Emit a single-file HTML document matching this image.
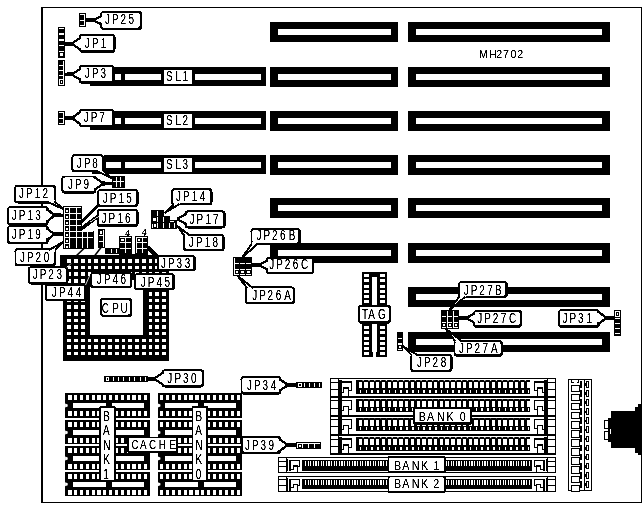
<!DOCTYPE html>
<html><head><meta charset="utf-8"><title>MH2702</title>
<style>
html,body{margin:0;padding:0;background:#fff;}
svg{display:block;font-family:"Liberation Sans",sans-serif;fill:#000;}
</style></head><body>
<svg width="644" height="505" viewBox="0 0 644 505" shape-rendering="crispEdges">
<defs><filter id="tf" x="0" y="0" width="644" height="505" filterUnits="userSpaceOnUse" color-interpolation-filters="sRGB"><feComponentTransfer><feFuncA type="linear" slope="2.6" intercept="-0.55"/></feComponentTransfer></filter></defs>
<rect x="0" y="0" width="644" height="505" fill="#fff"/>
<rect x="41.5" y="7.5" width="600" height="495" fill="#fff" stroke="#000" stroke-width="1"/>
<rect x="41" y="7" width="2" height="496" fill="#000" />
<rect x="408" y="22" width="202" height="20" fill="#000" />
<rect x="416" y="29" width="186" height="6" fill="#fff" />
<rect x="270" y="22" width="128" height="20" fill="#000" />
<rect x="278" y="29" width="113" height="6" fill="#fff" />
<rect x="408" y="67" width="202" height="20" fill="#000" />
<rect x="416" y="74" width="186" height="6" fill="#fff" />
<rect x="270" y="67" width="128" height="20" fill="#000" />
<rect x="278" y="74" width="113" height="6" fill="#fff" />
<rect x="408" y="111" width="202" height="20" fill="#000" />
<rect x="416" y="118" width="186" height="6" fill="#fff" />
<rect x="270" y="111" width="128" height="20" fill="#000" />
<rect x="278" y="118" width="113" height="6" fill="#fff" />
<rect x="408" y="155" width="202" height="20" fill="#000" />
<rect x="416" y="162" width="186" height="6" fill="#fff" />
<rect x="270" y="155" width="128" height="20" fill="#000" />
<rect x="278" y="162" width="113" height="6" fill="#fff" />
<rect x="408" y="198" width="202" height="20" fill="#000" />
<rect x="416" y="205" width="186" height="6" fill="#fff" />
<rect x="270" y="198" width="128" height="20" fill="#000" />
<rect x="278" y="205" width="113" height="6" fill="#fff" />
<rect x="408" y="243" width="202" height="20" fill="#000" />
<rect x="416" y="250" width="186" height="6" fill="#fff" />
<rect x="270" y="243" width="128" height="20" fill="#000" />
<rect x="278" y="250" width="113" height="6" fill="#fff" />
<rect x="408" y="287" width="202" height="20" fill="#000" />
<rect x="416" y="294" width="186" height="6" fill="#fff" />
<rect x="408" y="332" width="202" height="20" fill="#000" />
<rect x="416" y="339" width="186" height="6" fill="#fff" />
<rect x="114" y="67" width="152" height="19" fill="#000" />
<rect x="115" y="74" width="5.5" height="6" fill="#fff" />
<rect x="124.7" y="74" width="36.3" height="6" fill="#fff" />
<rect x="195" y="74" width="66" height="6" fill="#fff" />
<rect x="163.5" y="70" width="28.5" height="14" fill="#fff" />
<rect x="114" y="111" width="152" height="19" fill="#000" />
<rect x="115" y="118" width="5.5" height="6" fill="#fff" />
<rect x="124.7" y="118" width="36.3" height="6" fill="#fff" />
<rect x="195" y="118" width="66" height="6" fill="#fff" />
<rect x="163.5" y="114" width="28.5" height="14" fill="#fff" />
<rect x="104" y="155" width="162" height="19" fill="#000" />
<rect x="106" y="162" width="14.5" height="6" fill="#fff" />
<rect x="124.7" y="162" width="36.3" height="6" fill="#fff" />
<rect x="195" y="162" width="66" height="6" fill="#fff" />
<rect x="163.5" y="158" width="28.5" height="14" fill="#fff" />
<rect x="63" y="255" width="106" height="106" fill="#000" />
<rect x="90" y="280" width="53" height="55" fill="#fff" />
<rect x="67.3" y="259.1" width="3.7" height="3.5" fill="#fff"/>
<rect x="74.1" y="259.1" width="3.7" height="3.5" fill="#fff"/>
<rect x="80.9" y="259.1" width="3.7" height="3.5" fill="#fff"/>
<rect x="87.6" y="259.1" width="3.7" height="3.5" fill="#fff"/>
<rect x="94.4" y="259.1" width="3.7" height="3.5" fill="#fff"/>
<rect x="101.2" y="259.1" width="3.7" height="3.5" fill="#fff"/>
<rect x="108.0" y="259.1" width="3.7" height="3.5" fill="#fff"/>
<rect x="114.8" y="259.1" width="3.7" height="3.5" fill="#fff"/>
<rect x="121.5" y="259.1" width="3.7" height="3.5" fill="#fff"/>
<rect x="128.3" y="259.1" width="3.7" height="3.5" fill="#fff"/>
<rect x="135.1" y="259.1" width="3.7" height="3.5" fill="#fff"/>
<rect x="141.9" y="259.1" width="3.7" height="3.5" fill="#fff"/>
<rect x="148.7" y="259.1" width="3.7" height="3.5" fill="#fff"/>
<rect x="155.4" y="259.1" width="3.7" height="3.5" fill="#fff"/>
<rect x="162.2" y="259.1" width="3.7" height="3.5" fill="#fff"/>
<rect x="67.3" y="265.7" width="3.7" height="3.5" fill="#fff"/>
<rect x="74.1" y="265.7" width="3.7" height="3.5" fill="#fff"/>
<rect x="80.9" y="265.7" width="3.7" height="3.5" fill="#fff"/>
<rect x="87.6" y="265.7" width="3.7" height="3.5" fill="#fff"/>
<rect x="94.4" y="265.7" width="3.7" height="3.5" fill="#fff"/>
<rect x="101.2" y="265.7" width="3.7" height="3.5" fill="#fff"/>
<rect x="108.0" y="265.7" width="3.7" height="3.5" fill="#fff"/>
<rect x="114.8" y="265.7" width="3.7" height="3.5" fill="#fff"/>
<rect x="121.5" y="265.7" width="3.7" height="3.5" fill="#fff"/>
<rect x="128.3" y="265.7" width="3.7" height="3.5" fill="#fff"/>
<rect x="135.1" y="265.7" width="3.7" height="3.5" fill="#fff"/>
<rect x="141.9" y="265.7" width="3.7" height="3.5" fill="#fff"/>
<rect x="148.7" y="265.7" width="3.7" height="3.5" fill="#fff"/>
<rect x="155.4" y="265.7" width="3.7" height="3.5" fill="#fff"/>
<rect x="162.2" y="265.7" width="3.7" height="3.5" fill="#fff"/>
<rect x="67.3" y="272.3" width="3.7" height="3.5" fill="#fff"/>
<rect x="74.1" y="272.3" width="3.7" height="3.5" fill="#fff"/>
<rect x="80.9" y="272.3" width="3.7" height="3.5" fill="#fff"/>
<rect x="87.6" y="272.3" width="3.7" height="3.5" fill="#fff"/>
<rect x="94.4" y="272.3" width="3.7" height="3.5" fill="#fff"/>
<rect x="101.2" y="272.3" width="3.7" height="3.5" fill="#fff"/>
<rect x="108.0" y="272.3" width="3.7" height="3.5" fill="#fff"/>
<rect x="114.8" y="272.3" width="3.7" height="3.5" fill="#fff"/>
<rect x="121.5" y="272.3" width="3.7" height="3.5" fill="#fff"/>
<rect x="128.3" y="272.3" width="3.7" height="3.5" fill="#fff"/>
<rect x="135.1" y="272.3" width="3.7" height="3.5" fill="#fff"/>
<rect x="141.9" y="272.3" width="3.7" height="3.5" fill="#fff"/>
<rect x="148.7" y="272.3" width="3.7" height="3.5" fill="#fff"/>
<rect x="155.4" y="272.3" width="3.7" height="3.5" fill="#fff"/>
<rect x="162.2" y="272.3" width="3.7" height="3.5" fill="#fff"/>
<rect x="67.3" y="279.0" width="3.7" height="3.5" fill="#fff"/>
<rect x="74.1" y="279.0" width="3.7" height="3.5" fill="#fff"/>
<rect x="80.9" y="279.0" width="3.7" height="3.5" fill="#fff"/>
<rect x="148.7" y="279.0" width="3.7" height="3.5" fill="#fff"/>
<rect x="155.4" y="279.0" width="3.7" height="3.5" fill="#fff"/>
<rect x="162.2" y="279.0" width="3.7" height="3.5" fill="#fff"/>
<rect x="67.3" y="285.6" width="3.7" height="3.5" fill="#fff"/>
<rect x="74.1" y="285.6" width="3.7" height="3.5" fill="#fff"/>
<rect x="80.9" y="285.6" width="3.7" height="3.5" fill="#fff"/>
<rect x="148.7" y="285.6" width="3.7" height="3.5" fill="#fff"/>
<rect x="155.4" y="285.6" width="3.7" height="3.5" fill="#fff"/>
<rect x="162.2" y="285.6" width="3.7" height="3.5" fill="#fff"/>
<rect x="67.3" y="292.2" width="3.7" height="3.5" fill="#fff"/>
<rect x="74.1" y="292.2" width="3.7" height="3.5" fill="#fff"/>
<rect x="80.9" y="292.2" width="3.7" height="3.5" fill="#fff"/>
<rect x="148.7" y="292.2" width="3.7" height="3.5" fill="#fff"/>
<rect x="155.4" y="292.2" width="3.7" height="3.5" fill="#fff"/>
<rect x="162.2" y="292.2" width="3.7" height="3.5" fill="#fff"/>
<rect x="67.3" y="298.8" width="3.7" height="3.5" fill="#fff"/>
<rect x="74.1" y="298.8" width="3.7" height="3.5" fill="#fff"/>
<rect x="80.9" y="298.8" width="3.7" height="3.5" fill="#fff"/>
<rect x="148.7" y="298.8" width="3.7" height="3.5" fill="#fff"/>
<rect x="155.4" y="298.8" width="3.7" height="3.5" fill="#fff"/>
<rect x="162.2" y="298.8" width="3.7" height="3.5" fill="#fff"/>
<rect x="67.3" y="305.4" width="3.7" height="3.5" fill="#fff"/>
<rect x="74.1" y="305.4" width="3.7" height="3.5" fill="#fff"/>
<rect x="80.9" y="305.4" width="3.7" height="3.5" fill="#fff"/>
<rect x="148.7" y="305.4" width="3.7" height="3.5" fill="#fff"/>
<rect x="155.4" y="305.4" width="3.7" height="3.5" fill="#fff"/>
<rect x="162.2" y="305.4" width="3.7" height="3.5" fill="#fff"/>
<rect x="67.3" y="312.1" width="3.7" height="3.5" fill="#fff"/>
<rect x="74.1" y="312.1" width="3.7" height="3.5" fill="#fff"/>
<rect x="80.9" y="312.1" width="3.7" height="3.5" fill="#fff"/>
<rect x="148.7" y="312.1" width="3.7" height="3.5" fill="#fff"/>
<rect x="155.4" y="312.1" width="3.7" height="3.5" fill="#fff"/>
<rect x="162.2" y="312.1" width="3.7" height="3.5" fill="#fff"/>
<rect x="67.3" y="318.7" width="3.7" height="3.5" fill="#fff"/>
<rect x="74.1" y="318.7" width="3.7" height="3.5" fill="#fff"/>
<rect x="80.9" y="318.7" width="3.7" height="3.5" fill="#fff"/>
<rect x="148.7" y="318.7" width="3.7" height="3.5" fill="#fff"/>
<rect x="155.4" y="318.7" width="3.7" height="3.5" fill="#fff"/>
<rect x="162.2" y="318.7" width="3.7" height="3.5" fill="#fff"/>
<rect x="67.3" y="325.3" width="3.7" height="3.5" fill="#fff"/>
<rect x="74.1" y="325.3" width="3.7" height="3.5" fill="#fff"/>
<rect x="80.9" y="325.3" width="3.7" height="3.5" fill="#fff"/>
<rect x="148.7" y="325.3" width="3.7" height="3.5" fill="#fff"/>
<rect x="155.4" y="325.3" width="3.7" height="3.5" fill="#fff"/>
<rect x="162.2" y="325.3" width="3.7" height="3.5" fill="#fff"/>
<rect x="67.3" y="331.9" width="3.7" height="3.5" fill="#fff"/>
<rect x="74.1" y="331.9" width="3.7" height="3.5" fill="#fff"/>
<rect x="80.9" y="331.9" width="3.7" height="3.5" fill="#fff"/>
<rect x="148.7" y="331.9" width="3.7" height="3.5" fill="#fff"/>
<rect x="155.4" y="331.9" width="3.7" height="3.5" fill="#fff"/>
<rect x="162.2" y="331.9" width="3.7" height="3.5" fill="#fff"/>
<rect x="67.3" y="338.5" width="3.7" height="3.5" fill="#fff"/>
<rect x="74.1" y="338.5" width="3.7" height="3.5" fill="#fff"/>
<rect x="80.9" y="338.5" width="3.7" height="3.5" fill="#fff"/>
<rect x="87.6" y="338.5" width="3.7" height="3.5" fill="#fff"/>
<rect x="94.4" y="338.5" width="3.7" height="3.5" fill="#fff"/>
<rect x="101.2" y="338.5" width="3.7" height="3.5" fill="#fff"/>
<rect x="108.0" y="338.5" width="3.7" height="3.5" fill="#fff"/>
<rect x="114.8" y="338.5" width="3.7" height="3.5" fill="#fff"/>
<rect x="121.5" y="338.5" width="3.7" height="3.5" fill="#fff"/>
<rect x="128.3" y="338.5" width="3.7" height="3.5" fill="#fff"/>
<rect x="135.1" y="338.5" width="3.7" height="3.5" fill="#fff"/>
<rect x="141.9" y="338.5" width="3.7" height="3.5" fill="#fff"/>
<rect x="148.7" y="338.5" width="3.7" height="3.5" fill="#fff"/>
<rect x="155.4" y="338.5" width="3.7" height="3.5" fill="#fff"/>
<rect x="162.2" y="338.5" width="3.7" height="3.5" fill="#fff"/>
<rect x="67.3" y="345.2" width="3.7" height="3.5" fill="#fff"/>
<rect x="74.1" y="345.2" width="3.7" height="3.5" fill="#fff"/>
<rect x="80.9" y="345.2" width="3.7" height="3.5" fill="#fff"/>
<rect x="87.6" y="345.2" width="3.7" height="3.5" fill="#fff"/>
<rect x="94.4" y="345.2" width="3.7" height="3.5" fill="#fff"/>
<rect x="101.2" y="345.2" width="3.7" height="3.5" fill="#fff"/>
<rect x="108.0" y="345.2" width="3.7" height="3.5" fill="#fff"/>
<rect x="114.8" y="345.2" width="3.7" height="3.5" fill="#fff"/>
<rect x="121.5" y="345.2" width="3.7" height="3.5" fill="#fff"/>
<rect x="128.3" y="345.2" width="3.7" height="3.5" fill="#fff"/>
<rect x="135.1" y="345.2" width="3.7" height="3.5" fill="#fff"/>
<rect x="141.9" y="345.2" width="3.7" height="3.5" fill="#fff"/>
<rect x="148.7" y="345.2" width="3.7" height="3.5" fill="#fff"/>
<rect x="155.4" y="345.2" width="3.7" height="3.5" fill="#fff"/>
<rect x="162.2" y="345.2" width="3.7" height="3.5" fill="#fff"/>
<rect x="67.3" y="351.8" width="3.7" height="3.5" fill="#fff"/>
<rect x="74.1" y="351.8" width="3.7" height="3.5" fill="#fff"/>
<rect x="80.9" y="351.8" width="3.7" height="3.5" fill="#fff"/>
<rect x="87.6" y="351.8" width="3.7" height="3.5" fill="#fff"/>
<rect x="94.4" y="351.8" width="3.7" height="3.5" fill="#fff"/>
<rect x="101.2" y="351.8" width="3.7" height="3.5" fill="#fff"/>
<rect x="108.0" y="351.8" width="3.7" height="3.5" fill="#fff"/>
<rect x="114.8" y="351.8" width="3.7" height="3.5" fill="#fff"/>
<rect x="121.5" y="351.8" width="3.7" height="3.5" fill="#fff"/>
<rect x="128.3" y="351.8" width="3.7" height="3.5" fill="#fff"/>
<rect x="135.1" y="351.8" width="3.7" height="3.5" fill="#fff"/>
<rect x="141.9" y="351.8" width="3.7" height="3.5" fill="#fff"/>
<rect x="148.7" y="351.8" width="3.7" height="3.5" fill="#fff"/>
<rect x="155.4" y="351.8" width="3.7" height="3.5" fill="#fff"/>
<rect x="162.2" y="351.8" width="3.7" height="3.5" fill="#fff"/>
<line x1="76" y1="256" x2="84.5" y2="248" stroke="#000" stroke-width="1.6" shape-rendering="geometricPrecision"/>
<line x1="94.5" y1="256" x2="101" y2="247.5" stroke="#000" stroke-width="1.6" shape-rendering="geometricPrecision"/>
<rect x="119.5" y="254" width="28.5" height="2" fill="#000" />
<rect x="60" y="255" width="3" height="12" fill="#000" />
<rect x="362" y="272" width="25" height="85" fill="#000" />
<rect x="372.3" y="277" width="4.4" height="75" fill="#fff" />
<rect x="373" y="352" width="3" height="5" fill="#fff" />
<rect x="364.4" y="274.2" width="4.8" height="3" fill="#fff" />
<rect x="379.7" y="274.2" width="4.9" height="3" fill="#fff" />
<rect x="364.4" y="279.4" width="4.8" height="3" fill="#fff" />
<rect x="379.7" y="279.4" width="4.9" height="3" fill="#fff" />
<rect x="364.4" y="284.6" width="4.8" height="3" fill="#fff" />
<rect x="379.7" y="284.6" width="4.9" height="3" fill="#fff" />
<rect x="364.4" y="289.8" width="4.8" height="3" fill="#fff" />
<rect x="379.7" y="289.8" width="4.9" height="3" fill="#fff" />
<rect x="364.4" y="295" width="4.8" height="3" fill="#fff" />
<rect x="379.7" y="295" width="4.9" height="3" fill="#fff" />
<rect x="364.4" y="300.2" width="4.8" height="3" fill="#fff" />
<rect x="379.7" y="300.2" width="4.9" height="3" fill="#fff" />
<rect x="364.4" y="305.4" width="4.8" height="3" fill="#fff" />
<rect x="379.7" y="305.4" width="4.9" height="3" fill="#fff" />
<rect x="364.4" y="310.6" width="4.8" height="3" fill="#fff" />
<rect x="379.7" y="310.6" width="4.9" height="3" fill="#fff" />
<rect x="364.4" y="315.8" width="4.8" height="3" fill="#fff" />
<rect x="379.7" y="315.8" width="4.9" height="3" fill="#fff" />
<rect x="364.4" y="321" width="4.8" height="3" fill="#fff" />
<rect x="379.7" y="321" width="4.9" height="3" fill="#fff" />
<rect x="364.4" y="326.2" width="4.8" height="3" fill="#fff" />
<rect x="379.7" y="326.2" width="4.9" height="3" fill="#fff" />
<rect x="364.4" y="331.4" width="4.8" height="3" fill="#fff" />
<rect x="379.7" y="331.4" width="4.9" height="3" fill="#fff" />
<rect x="364.4" y="336.6" width="4.8" height="3" fill="#fff" />
<rect x="379.7" y="336.6" width="4.9" height="3" fill="#fff" />
<rect x="364.4" y="341.8" width="4.8" height="3" fill="#fff" />
<rect x="379.7" y="341.8" width="4.9" height="3" fill="#fff" />
<rect x="364.4" y="347" width="4.8" height="3" fill="#fff" />
<rect x="379.7" y="347" width="4.9" height="3" fill="#fff" />
<rect x="364.4" y="352.2" width="4.8" height="3" fill="#fff" />
<rect x="379.7" y="352.2" width="4.9" height="3" fill="#fff" />
<rect x="65.3" y="392.8" width="84.7" height="25.1" fill="#000" />
<rect x="68.3" y="394.8" width="3.2" height="5" fill="#fff" />
<rect x="68.3" y="410.8" width="3.2" height="5" fill="#fff" />
<rect x="74.12" y="394.8" width="3.2" height="5" fill="#fff" />
<rect x="74.12" y="410.8" width="3.2" height="5" fill="#fff" />
<rect x="79.94" y="394.8" width="3.2" height="5" fill="#fff" />
<rect x="79.94" y="410.8" width="3.2" height="5" fill="#fff" />
<rect x="85.76" y="394.8" width="3.2" height="5" fill="#fff" />
<rect x="85.76" y="410.8" width="3.2" height="5" fill="#fff" />
<rect x="91.58" y="394.8" width="3.2" height="5" fill="#fff" />
<rect x="91.58" y="410.8" width="3.2" height="5" fill="#fff" />
<rect x="97.4" y="394.8" width="3.2" height="5" fill="#fff" />
<rect x="97.4" y="410.8" width="3.2" height="5" fill="#fff" />
<rect x="103.22" y="394.8" width="3.2" height="5" fill="#fff" />
<rect x="103.22" y="410.8" width="3.2" height="5" fill="#fff" />
<rect x="109.04" y="394.8" width="3.2" height="5" fill="#fff" />
<rect x="109.04" y="410.8" width="3.2" height="5" fill="#fff" />
<rect x="114.86" y="394.8" width="3.2" height="5" fill="#fff" />
<rect x="114.86" y="410.8" width="3.2" height="5" fill="#fff" />
<rect x="120.68" y="394.8" width="3.2" height="5" fill="#fff" />
<rect x="120.68" y="410.8" width="3.2" height="5" fill="#fff" />
<rect x="126.5" y="394.8" width="3.2" height="5" fill="#fff" />
<rect x="126.5" y="410.8" width="3.2" height="5" fill="#fff" />
<rect x="132.32" y="394.8" width="3.2" height="5" fill="#fff" />
<rect x="132.32" y="410.8" width="3.2" height="5" fill="#fff" />
<rect x="138.14" y="394.8" width="3.2" height="5" fill="#fff" />
<rect x="138.14" y="410.8" width="3.2" height="5" fill="#fff" />
<rect x="143.96" y="394.8" width="3.2" height="5" fill="#fff" />
<rect x="143.96" y="410.8" width="3.2" height="5" fill="#fff" />
<rect x="72.7" y="402.8" width="71.5" height="5" fill="#fff" />
<rect x="106" y="401.8" width="6" height="7" fill="#000" />
<polygon points="65.1,403.4 67.7,404.4 67.7,406.4 65.1,407.4" fill="#fff" shape-rendering="geometricPrecision"/>
<rect x="65.3" y="419.8" width="84.7" height="24.4" fill="#000" />
<rect x="68.3" y="421.8" width="3.2" height="5" fill="#fff" />
<rect x="68.3" y="437.8" width="3.2" height="5" fill="#fff" />
<rect x="74.12" y="421.8" width="3.2" height="5" fill="#fff" />
<rect x="74.12" y="437.8" width="3.2" height="5" fill="#fff" />
<rect x="79.94" y="421.8" width="3.2" height="5" fill="#fff" />
<rect x="79.94" y="437.8" width="3.2" height="5" fill="#fff" />
<rect x="85.76" y="421.8" width="3.2" height="5" fill="#fff" />
<rect x="85.76" y="437.8" width="3.2" height="5" fill="#fff" />
<rect x="91.58" y="421.8" width="3.2" height="5" fill="#fff" />
<rect x="91.58" y="437.8" width="3.2" height="5" fill="#fff" />
<rect x="97.4" y="421.8" width="3.2" height="5" fill="#fff" />
<rect x="97.4" y="437.8" width="3.2" height="5" fill="#fff" />
<rect x="103.22" y="421.8" width="3.2" height="5" fill="#fff" />
<rect x="103.22" y="437.8" width="3.2" height="5" fill="#fff" />
<rect x="109.04" y="421.8" width="3.2" height="5" fill="#fff" />
<rect x="109.04" y="437.8" width="3.2" height="5" fill="#fff" />
<rect x="114.86" y="421.8" width="3.2" height="5" fill="#fff" />
<rect x="114.86" y="437.8" width="3.2" height="5" fill="#fff" />
<rect x="120.68" y="421.8" width="3.2" height="5" fill="#fff" />
<rect x="120.68" y="437.8" width="3.2" height="5" fill="#fff" />
<rect x="126.5" y="421.8" width="3.2" height="5" fill="#fff" />
<rect x="126.5" y="437.8" width="3.2" height="5" fill="#fff" />
<rect x="132.32" y="421.8" width="3.2" height="5" fill="#fff" />
<rect x="132.32" y="437.8" width="3.2" height="5" fill="#fff" />
<rect x="138.14" y="421.8" width="3.2" height="5" fill="#fff" />
<rect x="138.14" y="437.8" width="3.2" height="5" fill="#fff" />
<rect x="143.96" y="421.8" width="3.2" height="5" fill="#fff" />
<rect x="143.96" y="437.8" width="3.2" height="5" fill="#fff" />
<rect x="72.7" y="429.8" width="71.5" height="5" fill="#fff" />
<rect x="106" y="428.8" width="6" height="7" fill="#000" />
<polygon points="65.1,430.4 67.7,431.4 67.7,433.4 65.1,434.4" fill="#fff" shape-rendering="geometricPrecision"/>
<rect x="65.3" y="445.9" width="84.7" height="24.3" fill="#000" />
<rect x="68.3" y="447.9" width="3.2" height="5" fill="#fff" />
<rect x="68.3" y="463.9" width="3.2" height="5" fill="#fff" />
<rect x="74.12" y="447.9" width="3.2" height="5" fill="#fff" />
<rect x="74.12" y="463.9" width="3.2" height="5" fill="#fff" />
<rect x="79.94" y="447.9" width="3.2" height="5" fill="#fff" />
<rect x="79.94" y="463.9" width="3.2" height="5" fill="#fff" />
<rect x="85.76" y="447.9" width="3.2" height="5" fill="#fff" />
<rect x="85.76" y="463.9" width="3.2" height="5" fill="#fff" />
<rect x="91.58" y="447.9" width="3.2" height="5" fill="#fff" />
<rect x="91.58" y="463.9" width="3.2" height="5" fill="#fff" />
<rect x="97.4" y="447.9" width="3.2" height="5" fill="#fff" />
<rect x="97.4" y="463.9" width="3.2" height="5" fill="#fff" />
<rect x="103.22" y="447.9" width="3.2" height="5" fill="#fff" />
<rect x="103.22" y="463.9" width="3.2" height="5" fill="#fff" />
<rect x="109.04" y="447.9" width="3.2" height="5" fill="#fff" />
<rect x="109.04" y="463.9" width="3.2" height="5" fill="#fff" />
<rect x="114.86" y="447.9" width="3.2" height="5" fill="#fff" />
<rect x="114.86" y="463.9" width="3.2" height="5" fill="#fff" />
<rect x="120.68" y="447.9" width="3.2" height="5" fill="#fff" />
<rect x="120.68" y="463.9" width="3.2" height="5" fill="#fff" />
<rect x="126.5" y="447.9" width="3.2" height="5" fill="#fff" />
<rect x="126.5" y="463.9" width="3.2" height="5" fill="#fff" />
<rect x="132.32" y="447.9" width="3.2" height="5" fill="#fff" />
<rect x="132.32" y="463.9" width="3.2" height="5" fill="#fff" />
<rect x="138.14" y="447.9" width="3.2" height="5" fill="#fff" />
<rect x="138.14" y="463.9" width="3.2" height="5" fill="#fff" />
<rect x="143.96" y="447.9" width="3.2" height="5" fill="#fff" />
<rect x="143.96" y="463.9" width="3.2" height="5" fill="#fff" />
<rect x="72.7" y="455.9" width="71.5" height="5" fill="#fff" />
<rect x="106" y="454.9" width="6" height="7" fill="#000" />
<polygon points="65.1,456.5 67.7,457.5 67.7,459.5 65.1,460.5" fill="#fff" shape-rendering="geometricPrecision"/>
<rect x="65.3" y="471.7" width="84.7" height="24.1" fill="#000" />
<rect x="68.3" y="473.7" width="3.2" height="5" fill="#fff" />
<rect x="68.3" y="489.7" width="3.2" height="5" fill="#fff" />
<rect x="74.12" y="473.7" width="3.2" height="5" fill="#fff" />
<rect x="74.12" y="489.7" width="3.2" height="5" fill="#fff" />
<rect x="79.94" y="473.7" width="3.2" height="5" fill="#fff" />
<rect x="79.94" y="489.7" width="3.2" height="5" fill="#fff" />
<rect x="85.76" y="473.7" width="3.2" height="5" fill="#fff" />
<rect x="85.76" y="489.7" width="3.2" height="5" fill="#fff" />
<rect x="91.58" y="473.7" width="3.2" height="5" fill="#fff" />
<rect x="91.58" y="489.7" width="3.2" height="5" fill="#fff" />
<rect x="97.4" y="473.7" width="3.2" height="5" fill="#fff" />
<rect x="97.4" y="489.7" width="3.2" height="5" fill="#fff" />
<rect x="103.22" y="473.7" width="3.2" height="5" fill="#fff" />
<rect x="103.22" y="489.7" width="3.2" height="5" fill="#fff" />
<rect x="109.04" y="473.7" width="3.2" height="5" fill="#fff" />
<rect x="109.04" y="489.7" width="3.2" height="5" fill="#fff" />
<rect x="114.86" y="473.7" width="3.2" height="5" fill="#fff" />
<rect x="114.86" y="489.7" width="3.2" height="5" fill="#fff" />
<rect x="120.68" y="473.7" width="3.2" height="5" fill="#fff" />
<rect x="120.68" y="489.7" width="3.2" height="5" fill="#fff" />
<rect x="126.5" y="473.7" width="3.2" height="5" fill="#fff" />
<rect x="126.5" y="489.7" width="3.2" height="5" fill="#fff" />
<rect x="132.32" y="473.7" width="3.2" height="5" fill="#fff" />
<rect x="132.32" y="489.7" width="3.2" height="5" fill="#fff" />
<rect x="138.14" y="473.7" width="3.2" height="5" fill="#fff" />
<rect x="138.14" y="489.7" width="3.2" height="5" fill="#fff" />
<rect x="143.96" y="473.7" width="3.2" height="5" fill="#fff" />
<rect x="143.96" y="489.7" width="3.2" height="5" fill="#fff" />
<rect x="72.7" y="481.7" width="71.5" height="5" fill="#fff" />
<rect x="106" y="480.7" width="6" height="7" fill="#000" />
<polygon points="65.1,482.3 67.7,483.3 67.7,485.3 65.1,486.3" fill="#fff" shape-rendering="geometricPrecision"/>
<rect x="158" y="392.8" width="83.8" height="25.1" fill="#000" />
<rect x="159.9" y="394.8" width="3.2" height="5" fill="#fff" />
<rect x="159.9" y="410.8" width="3.2" height="5" fill="#fff" />
<rect x="165.8" y="394.8" width="3.2" height="5" fill="#fff" />
<rect x="165.8" y="410.8" width="3.2" height="5" fill="#fff" />
<rect x="171.7" y="394.8" width="3.2" height="5" fill="#fff" />
<rect x="171.7" y="410.8" width="3.2" height="5" fill="#fff" />
<rect x="177.6" y="394.8" width="3.2" height="5" fill="#fff" />
<rect x="177.6" y="410.8" width="3.2" height="5" fill="#fff" />
<rect x="183.5" y="394.8" width="3.2" height="5" fill="#fff" />
<rect x="183.5" y="410.8" width="3.2" height="5" fill="#fff" />
<rect x="189.4" y="394.8" width="3.2" height="5" fill="#fff" />
<rect x="189.4" y="410.8" width="3.2" height="5" fill="#fff" />
<rect x="195.3" y="394.8" width="3.2" height="5" fill="#fff" />
<rect x="195.3" y="410.8" width="3.2" height="5" fill="#fff" />
<rect x="201.2" y="394.8" width="3.2" height="5" fill="#fff" />
<rect x="201.2" y="410.8" width="3.2" height="5" fill="#fff" />
<rect x="207.1" y="394.8" width="3.2" height="5" fill="#fff" />
<rect x="207.1" y="410.8" width="3.2" height="5" fill="#fff" />
<rect x="213" y="394.8" width="3.2" height="5" fill="#fff" />
<rect x="213" y="410.8" width="3.2" height="5" fill="#fff" />
<rect x="218.9" y="394.8" width="3.2" height="5" fill="#fff" />
<rect x="218.9" y="410.8" width="3.2" height="5" fill="#fff" />
<rect x="224.8" y="394.8" width="3.2" height="5" fill="#fff" />
<rect x="224.8" y="410.8" width="3.2" height="5" fill="#fff" />
<rect x="230.7" y="394.8" width="3.2" height="5" fill="#fff" />
<rect x="230.7" y="410.8" width="3.2" height="5" fill="#fff" />
<rect x="236.6" y="394.8" width="3.2" height="5" fill="#fff" />
<rect x="236.6" y="410.8" width="3.2" height="5" fill="#fff" />
<rect x="165.4" y="402.8" width="70.6" height="5" fill="#fff" />
<rect x="198.2" y="401.8" width="6" height="7" fill="#000" />
<polygon points="157.8,403.4 160.4,404.4 160.4,406.4 157.8,407.4" fill="#fff" shape-rendering="geometricPrecision"/>
<rect x="158" y="419.8" width="83.8" height="24.4" fill="#000" />
<rect x="159.9" y="421.8" width="3.2" height="5" fill="#fff" />
<rect x="159.9" y="437.8" width="3.2" height="5" fill="#fff" />
<rect x="165.8" y="421.8" width="3.2" height="5" fill="#fff" />
<rect x="165.8" y="437.8" width="3.2" height="5" fill="#fff" />
<rect x="171.7" y="421.8" width="3.2" height="5" fill="#fff" />
<rect x="171.7" y="437.8" width="3.2" height="5" fill="#fff" />
<rect x="177.6" y="421.8" width="3.2" height="5" fill="#fff" />
<rect x="177.6" y="437.8" width="3.2" height="5" fill="#fff" />
<rect x="183.5" y="421.8" width="3.2" height="5" fill="#fff" />
<rect x="183.5" y="437.8" width="3.2" height="5" fill="#fff" />
<rect x="189.4" y="421.8" width="3.2" height="5" fill="#fff" />
<rect x="189.4" y="437.8" width="3.2" height="5" fill="#fff" />
<rect x="195.3" y="421.8" width="3.2" height="5" fill="#fff" />
<rect x="195.3" y="437.8" width="3.2" height="5" fill="#fff" />
<rect x="201.2" y="421.8" width="3.2" height="5" fill="#fff" />
<rect x="201.2" y="437.8" width="3.2" height="5" fill="#fff" />
<rect x="207.1" y="421.8" width="3.2" height="5" fill="#fff" />
<rect x="207.1" y="437.8" width="3.2" height="5" fill="#fff" />
<rect x="213" y="421.8" width="3.2" height="5" fill="#fff" />
<rect x="213" y="437.8" width="3.2" height="5" fill="#fff" />
<rect x="218.9" y="421.8" width="3.2" height="5" fill="#fff" />
<rect x="218.9" y="437.8" width="3.2" height="5" fill="#fff" />
<rect x="224.8" y="421.8" width="3.2" height="5" fill="#fff" />
<rect x="224.8" y="437.8" width="3.2" height="5" fill="#fff" />
<rect x="230.7" y="421.8" width="3.2" height="5" fill="#fff" />
<rect x="230.7" y="437.8" width="3.2" height="5" fill="#fff" />
<rect x="236.6" y="421.8" width="3.2" height="5" fill="#fff" />
<rect x="236.6" y="437.8" width="3.2" height="5" fill="#fff" />
<rect x="165.4" y="429.8" width="70.6" height="5" fill="#fff" />
<rect x="198.2" y="428.8" width="6" height="7" fill="#000" />
<polygon points="157.8,430.4 160.4,431.4 160.4,433.4 157.8,434.4" fill="#fff" shape-rendering="geometricPrecision"/>
<rect x="158" y="445.9" width="83.8" height="24.3" fill="#000" />
<rect x="159.9" y="447.9" width="3.2" height="5" fill="#fff" />
<rect x="159.9" y="463.9" width="3.2" height="5" fill="#fff" />
<rect x="165.8" y="447.9" width="3.2" height="5" fill="#fff" />
<rect x="165.8" y="463.9" width="3.2" height="5" fill="#fff" />
<rect x="171.7" y="447.9" width="3.2" height="5" fill="#fff" />
<rect x="171.7" y="463.9" width="3.2" height="5" fill="#fff" />
<rect x="177.6" y="447.9" width="3.2" height="5" fill="#fff" />
<rect x="177.6" y="463.9" width="3.2" height="5" fill="#fff" />
<rect x="183.5" y="447.9" width="3.2" height="5" fill="#fff" />
<rect x="183.5" y="463.9" width="3.2" height="5" fill="#fff" />
<rect x="189.4" y="447.9" width="3.2" height="5" fill="#fff" />
<rect x="189.4" y="463.9" width="3.2" height="5" fill="#fff" />
<rect x="195.3" y="447.9" width="3.2" height="5" fill="#fff" />
<rect x="195.3" y="463.9" width="3.2" height="5" fill="#fff" />
<rect x="201.2" y="447.9" width="3.2" height="5" fill="#fff" />
<rect x="201.2" y="463.9" width="3.2" height="5" fill="#fff" />
<rect x="207.1" y="447.9" width="3.2" height="5" fill="#fff" />
<rect x="207.1" y="463.9" width="3.2" height="5" fill="#fff" />
<rect x="213" y="447.9" width="3.2" height="5" fill="#fff" />
<rect x="213" y="463.9" width="3.2" height="5" fill="#fff" />
<rect x="218.9" y="447.9" width="3.2" height="5" fill="#fff" />
<rect x="218.9" y="463.9" width="3.2" height="5" fill="#fff" />
<rect x="224.8" y="447.9" width="3.2" height="5" fill="#fff" />
<rect x="224.8" y="463.9" width="3.2" height="5" fill="#fff" />
<rect x="230.7" y="447.9" width="3.2" height="5" fill="#fff" />
<rect x="230.7" y="463.9" width="3.2" height="5" fill="#fff" />
<rect x="236.6" y="447.9" width="3.2" height="5" fill="#fff" />
<rect x="236.6" y="463.9" width="3.2" height="5" fill="#fff" />
<rect x="165.4" y="455.9" width="70.6" height="5" fill="#fff" />
<rect x="198.2" y="454.9" width="6" height="7" fill="#000" />
<polygon points="157.8,456.5 160.4,457.5 160.4,459.5 157.8,460.5" fill="#fff" shape-rendering="geometricPrecision"/>
<rect x="158" y="471.7" width="83.8" height="24.1" fill="#000" />
<rect x="159.9" y="473.7" width="3.2" height="5" fill="#fff" />
<rect x="159.9" y="489.7" width="3.2" height="5" fill="#fff" />
<rect x="165.8" y="473.7" width="3.2" height="5" fill="#fff" />
<rect x="165.8" y="489.7" width="3.2" height="5" fill="#fff" />
<rect x="171.7" y="473.7" width="3.2" height="5" fill="#fff" />
<rect x="171.7" y="489.7" width="3.2" height="5" fill="#fff" />
<rect x="177.6" y="473.7" width="3.2" height="5" fill="#fff" />
<rect x="177.6" y="489.7" width="3.2" height="5" fill="#fff" />
<rect x="183.5" y="473.7" width="3.2" height="5" fill="#fff" />
<rect x="183.5" y="489.7" width="3.2" height="5" fill="#fff" />
<rect x="189.4" y="473.7" width="3.2" height="5" fill="#fff" />
<rect x="189.4" y="489.7" width="3.2" height="5" fill="#fff" />
<rect x="195.3" y="473.7" width="3.2" height="5" fill="#fff" />
<rect x="195.3" y="489.7" width="3.2" height="5" fill="#fff" />
<rect x="201.2" y="473.7" width="3.2" height="5" fill="#fff" />
<rect x="201.2" y="489.7" width="3.2" height="5" fill="#fff" />
<rect x="207.1" y="473.7" width="3.2" height="5" fill="#fff" />
<rect x="207.1" y="489.7" width="3.2" height="5" fill="#fff" />
<rect x="213" y="473.7" width="3.2" height="5" fill="#fff" />
<rect x="213" y="489.7" width="3.2" height="5" fill="#fff" />
<rect x="218.9" y="473.7" width="3.2" height="5" fill="#fff" />
<rect x="218.9" y="489.7" width="3.2" height="5" fill="#fff" />
<rect x="224.8" y="473.7" width="3.2" height="5" fill="#fff" />
<rect x="224.8" y="489.7" width="3.2" height="5" fill="#fff" />
<rect x="230.7" y="473.7" width="3.2" height="5" fill="#fff" />
<rect x="230.7" y="489.7" width="3.2" height="5" fill="#fff" />
<rect x="236.6" y="473.7" width="3.2" height="5" fill="#fff" />
<rect x="236.6" y="489.7" width="3.2" height="5" fill="#fff" />
<rect x="165.4" y="481.7" width="70.6" height="5" fill="#fff" />
<rect x="198.2" y="480.7" width="6" height="7" fill="#000" />
<polygon points="157.8,482.3 160.4,483.3 160.4,485.3 157.8,486.3" fill="#fff" shape-rendering="geometricPrecision"/>
<rect x="330.5" y="378.7" width="225" height="18.100000000000023" fill="#fff" stroke="#000"/>
<rect x="330" y="395.7" width="226" height="1.6" fill="#000" />
<line x1="338.5" y1="378.2" x2="338.5" y2="396.3" stroke="#000" stroke-width="1" />
<line x1="330" y1="382.2" x2="338.5" y2="382.2" stroke="#000" stroke-width="1" />
<line x1="330" y1="389.4" x2="338.5" y2="389.4" stroke="#000" stroke-width="1" />
<rect x="338.6" y="379.6" width="3.2" height="16.7" fill="#000" />
<polyline points="341.8,382.0 351.6,382.0 351.6,390.8 348.8,390.8" fill="none" stroke="#000" stroke-width="1.1"/>
<polyline points="341.8,392.2 343.9,392.2 343.9,388.0 348.8,388.0 348.8,396.3" fill="none" stroke="#000" stroke-width="1.1"/>
<line x1="547.5" y1="378.2" x2="547.5" y2="396.3" stroke="#000" stroke-width="1" />
<line x1="556" y1="382.2" x2="547.5" y2="382.2" stroke="#000" stroke-width="1" />
<line x1="556" y1="389.4" x2="547.5" y2="389.4" stroke="#000" stroke-width="1" />
<rect x="544.2" y="379.6" width="3.2" height="16.7" fill="#000" />
<polyline points="544.2,382.0 534.4,382.0 534.4,390.8 537.2,390.8" fill="none" stroke="#000" stroke-width="1.1"/>
<polyline points="544.2,392.2 542.1,392.2 542.1,388.0 537.2,388.0 537.2,396.3" fill="none" stroke="#000" stroke-width="1.1"/>
<rect x="356" y="380.3" width="174" height="13.5" fill="#000" />
<rect x="358.6" y="382.2" width="3.5" height="6.2" fill="#fff" />
<rect x="359.8" y="389.5" width="1.6" height="3.1" fill="#fff" />
<polygon points="362.2,380.0 364.2,380.0 363.2,381.2" fill="#fff" shape-rendering="geometricPrecision"/>
<rect x="364.39" y="382.2" width="3.5" height="6.2" fill="#fff" />
<rect x="365.59" y="389.5" width="1.6" height="3.1" fill="#fff" />
<polygon points="368.0,380.0 370.0,380.0 369.0,381.2" fill="#fff" shape-rendering="geometricPrecision"/>
<rect x="370.18" y="382.2" width="3.5" height="6.2" fill="#fff" />
<rect x="371.38" y="389.5" width="1.6" height="3.1" fill="#fff" />
<polygon points="373.8,380.0 375.8,380.0 374.8,381.2" fill="#fff" shape-rendering="geometricPrecision"/>
<rect x="375.97" y="382.2" width="3.5" height="6.2" fill="#fff" />
<rect x="377.17" y="389.5" width="1.6" height="3.1" fill="#fff" />
<polygon points="379.6,380.0 381.6,380.0 380.6,381.2" fill="#fff" shape-rendering="geometricPrecision"/>
<rect x="381.76" y="382.2" width="3.5" height="6.2" fill="#fff" />
<rect x="382.96" y="389.5" width="1.6" height="3.1" fill="#fff" />
<polygon points="385.4,380.0 387.4,380.0 386.4,381.2" fill="#fff" shape-rendering="geometricPrecision"/>
<rect x="387.55" y="382.2" width="3.5" height="6.2" fill="#fff" />
<rect x="388.75" y="389.5" width="1.6" height="3.1" fill="#fff" />
<polygon points="391.2,380.0 393.2,380.0 392.2,381.2" fill="#fff" shape-rendering="geometricPrecision"/>
<rect x="393.34" y="382.2" width="3.5" height="6.2" fill="#fff" />
<rect x="394.54" y="389.5" width="1.6" height="3.1" fill="#fff" />
<polygon points="396.9,380.0 398.9,380.0 397.9,381.2" fill="#fff" shape-rendering="geometricPrecision"/>
<rect x="399.13" y="382.2" width="3.5" height="6.2" fill="#fff" />
<rect x="400.33" y="389.5" width="1.6" height="3.1" fill="#fff" />
<polygon points="402.7,380.0 404.7,380.0 403.7,381.2" fill="#fff" shape-rendering="geometricPrecision"/>
<rect x="404.92" y="382.2" width="3.5" height="6.2" fill="#fff" />
<rect x="406.12" y="389.5" width="1.6" height="3.1" fill="#fff" />
<polygon points="408.5,380.0 410.5,380.0 409.5,381.2" fill="#fff" shape-rendering="geometricPrecision"/>
<rect x="410.71" y="382.2" width="3.5" height="6.2" fill="#fff" />
<rect x="411.91" y="389.5" width="1.6" height="3.1" fill="#fff" />
<polygon points="414.3,380.0 416.3,380.0 415.3,381.2" fill="#fff" shape-rendering="geometricPrecision"/>
<rect x="416.5" y="382.2" width="3.5" height="6.2" fill="#fff" />
<rect x="417.7" y="389.5" width="1.6" height="3.1" fill="#fff" />
<polygon points="420.1,380.0 422.1,380.0 421.1,381.2" fill="#fff" shape-rendering="geometricPrecision"/>
<rect x="422.29" y="382.2" width="3.5" height="6.2" fill="#fff" />
<rect x="423.49" y="389.5" width="1.6" height="3.1" fill="#fff" />
<polygon points="425.9,380.0 427.9,380.0 426.9,381.2" fill="#fff" shape-rendering="geometricPrecision"/>
<rect x="428.08" y="382.2" width="3.5" height="6.2" fill="#fff" />
<rect x="429.28" y="389.5" width="1.6" height="3.1" fill="#fff" />
<polygon points="431.7,380.0 433.7,380.0 432.7,381.2" fill="#fff" shape-rendering="geometricPrecision"/>
<rect x="433.87" y="382.2" width="3.5" height="6.2" fill="#fff" />
<rect x="435.07" y="389.5" width="1.6" height="3.1" fill="#fff" />
<polygon points="437.5,380.0 439.5,380.0 438.5,381.2" fill="#fff" shape-rendering="geometricPrecision"/>
<rect x="439.66" y="382.2" width="3.5" height="6.2" fill="#fff" />
<rect x="440.86" y="389.5" width="1.6" height="3.1" fill="#fff" />
<polygon points="443.3,380.0 445.3,380.0 444.3,381.2" fill="#fff" shape-rendering="geometricPrecision"/>
<rect x="445.45" y="382.2" width="3.5" height="6.2" fill="#fff" />
<rect x="446.65" y="389.5" width="1.6" height="3.1" fill="#fff" />
<polygon points="449.1,380.0 451.1,380.0 450.1,381.2" fill="#fff" shape-rendering="geometricPrecision"/>
<rect x="451.24" y="382.2" width="3.5" height="6.2" fill="#fff" />
<rect x="452.44" y="389.5" width="1.6" height="3.1" fill="#fff" />
<polygon points="454.8,380.0 456.8,380.0 455.8,381.2" fill="#fff" shape-rendering="geometricPrecision"/>
<rect x="457.03" y="382.2" width="3.5" height="6.2" fill="#fff" />
<rect x="458.23" y="389.5" width="1.6" height="3.1" fill="#fff" />
<polygon points="460.6,380.0 462.6,380.0 461.6,381.2" fill="#fff" shape-rendering="geometricPrecision"/>
<rect x="462.82" y="382.2" width="3.5" height="6.2" fill="#fff" />
<rect x="464.02" y="389.5" width="1.6" height="3.1" fill="#fff" />
<polygon points="466.4,380.0 468.4,380.0 467.4,381.2" fill="#fff" shape-rendering="geometricPrecision"/>
<rect x="468.61" y="382.2" width="3.5" height="6.2" fill="#fff" />
<rect x="469.81" y="389.5" width="1.6" height="3.1" fill="#fff" />
<polygon points="472.2,380.0 474.2,380.0 473.2,381.2" fill="#fff" shape-rendering="geometricPrecision"/>
<rect x="474.4" y="382.2" width="3.5" height="6.2" fill="#fff" />
<rect x="475.6" y="389.5" width="1.6" height="3.1" fill="#fff" />
<polygon points="478.0,380.0 480.0,380.0 479.0,381.2" fill="#fff" shape-rendering="geometricPrecision"/>
<rect x="480.19" y="382.2" width="3.5" height="6.2" fill="#fff" />
<rect x="481.39" y="389.5" width="1.6" height="3.1" fill="#fff" />
<polygon points="483.8,380.0 485.8,380.0 484.8,381.2" fill="#fff" shape-rendering="geometricPrecision"/>
<rect x="485.98" y="382.2" width="3.5" height="6.2" fill="#fff" />
<rect x="487.18" y="389.5" width="1.6" height="3.1" fill="#fff" />
<polygon points="489.6,380.0 491.6,380.0 490.6,381.2" fill="#fff" shape-rendering="geometricPrecision"/>
<rect x="491.77" y="382.2" width="3.5" height="6.2" fill="#fff" />
<rect x="492.97" y="389.5" width="1.6" height="3.1" fill="#fff" />
<polygon points="495.4,380.0 497.4,380.0 496.4,381.2" fill="#fff" shape-rendering="geometricPrecision"/>
<rect x="497.56" y="382.2" width="3.5" height="6.2" fill="#fff" />
<rect x="498.76" y="389.5" width="1.6" height="3.1" fill="#fff" />
<polygon points="501.2,380.0 503.2,380.0 502.2,381.2" fill="#fff" shape-rendering="geometricPrecision"/>
<rect x="503.35" y="382.2" width="3.5" height="6.2" fill="#fff" />
<rect x="504.55" y="389.5" width="1.6" height="3.1" fill="#fff" />
<polygon points="507.0,380.0 509.0,380.0 508.0,381.2" fill="#fff" shape-rendering="geometricPrecision"/>
<rect x="509.14" y="382.2" width="3.5" height="6.2" fill="#fff" />
<rect x="510.34" y="389.5" width="1.6" height="3.1" fill="#fff" />
<polygon points="512.7,380.0 514.7,380.0 513.7,381.2" fill="#fff" shape-rendering="geometricPrecision"/>
<rect x="514.93" y="382.2" width="3.5" height="6.2" fill="#fff" />
<rect x="516.13" y="389.5" width="1.6" height="3.1" fill="#fff" />
<polygon points="518.5,380.0 520.5,380.0 519.5,381.2" fill="#fff" shape-rendering="geometricPrecision"/>
<rect x="520.72" y="382.2" width="3.5" height="6.2" fill="#fff" />
<rect x="521.92" y="389.5" width="1.6" height="3.1" fill="#fff" />
<polygon points="524.3,380.0 526.3,380.0 525.3,381.2" fill="#fff" shape-rendering="geometricPrecision"/>
<rect x="526.51" y="382.2" width="3.5" height="6.2" fill="#fff" />
<rect x="527.71" y="389.5" width="1.6" height="3.1" fill="#fff" />
<polygon points="530.1,380.0 532.1,380.0 531.1,381.2" fill="#fff" shape-rendering="geometricPrecision"/>
<rect x="330.5" y="397.3" width="225" height="18.30000000000001" fill="#fff" stroke="#000"/>
<rect x="330" y="414.5" width="226" height="1.6" fill="#000" />
<line x1="338.5" y1="396.8" x2="338.5" y2="415.1" stroke="#000" stroke-width="1" />
<line x1="330" y1="400.8" x2="338.5" y2="400.8" stroke="#000" stroke-width="1" />
<line x1="330" y1="408" x2="338.5" y2="408" stroke="#000" stroke-width="1" />
<rect x="338.6" y="398.2" width="3.2" height="16.9" fill="#000" />
<polyline points="341.8,400.6 351.6,400.6 351.6,409.4 348.8,409.4" fill="none" stroke="#000" stroke-width="1.1"/>
<polyline points="341.8,410.8 343.9,410.8 343.9,406.6 348.8,406.6 348.8,415.1" fill="none" stroke="#000" stroke-width="1.1"/>
<line x1="547.5" y1="396.8" x2="547.5" y2="415.1" stroke="#000" stroke-width="1" />
<line x1="556" y1="400.8" x2="547.5" y2="400.8" stroke="#000" stroke-width="1" />
<line x1="556" y1="408" x2="547.5" y2="408" stroke="#000" stroke-width="1" />
<rect x="544.2" y="398.2" width="3.2" height="16.9" fill="#000" />
<polyline points="544.2,400.6 534.4,400.6 534.4,409.4 537.2,409.4" fill="none" stroke="#000" stroke-width="1.1"/>
<polyline points="544.2,410.8 542.1,410.8 542.1,406.6 537.2,406.6 537.2,415.1" fill="none" stroke="#000" stroke-width="1.1"/>
<rect x="356" y="398.9" width="174" height="13.5" fill="#000" />
<rect x="358.6" y="400.8" width="3.5" height="6.2" fill="#fff" />
<rect x="359.8" y="408.1" width="1.6" height="3.1" fill="#fff" />
<polygon points="362.2,398.6 364.2,398.6 363.2,399.8" fill="#fff" shape-rendering="geometricPrecision"/>
<rect x="364.39" y="400.8" width="3.5" height="6.2" fill="#fff" />
<rect x="365.59" y="408.1" width="1.6" height="3.1" fill="#fff" />
<polygon points="368.0,398.6 370.0,398.6 369.0,399.8" fill="#fff" shape-rendering="geometricPrecision"/>
<rect x="370.18" y="400.8" width="3.5" height="6.2" fill="#fff" />
<rect x="371.38" y="408.1" width="1.6" height="3.1" fill="#fff" />
<polygon points="373.8,398.6 375.8,398.6 374.8,399.8" fill="#fff" shape-rendering="geometricPrecision"/>
<rect x="375.97" y="400.8" width="3.5" height="6.2" fill="#fff" />
<rect x="377.17" y="408.1" width="1.6" height="3.1" fill="#fff" />
<polygon points="379.6,398.6 381.6,398.6 380.6,399.8" fill="#fff" shape-rendering="geometricPrecision"/>
<rect x="381.76" y="400.8" width="3.5" height="6.2" fill="#fff" />
<rect x="382.96" y="408.1" width="1.6" height="3.1" fill="#fff" />
<polygon points="385.4,398.6 387.4,398.6 386.4,399.8" fill="#fff" shape-rendering="geometricPrecision"/>
<rect x="387.55" y="400.8" width="3.5" height="6.2" fill="#fff" />
<rect x="388.75" y="408.1" width="1.6" height="3.1" fill="#fff" />
<polygon points="391.2,398.6 393.2,398.6 392.2,399.8" fill="#fff" shape-rendering="geometricPrecision"/>
<rect x="393.34" y="400.8" width="3.5" height="6.2" fill="#fff" />
<rect x="394.54" y="408.1" width="1.6" height="3.1" fill="#fff" />
<polygon points="396.9,398.6 398.9,398.6 397.9,399.8" fill="#fff" shape-rendering="geometricPrecision"/>
<rect x="399.13" y="400.8" width="3.5" height="6.2" fill="#fff" />
<rect x="400.33" y="408.1" width="1.6" height="3.1" fill="#fff" />
<polygon points="402.7,398.6 404.7,398.6 403.7,399.8" fill="#fff" shape-rendering="geometricPrecision"/>
<rect x="404.92" y="400.8" width="3.5" height="6.2" fill="#fff" />
<rect x="406.12" y="408.1" width="1.6" height="3.1" fill="#fff" />
<polygon points="408.5,398.6 410.5,398.6 409.5,399.8" fill="#fff" shape-rendering="geometricPrecision"/>
<rect x="410.71" y="400.8" width="3.5" height="6.2" fill="#fff" />
<rect x="411.91" y="408.1" width="1.6" height="3.1" fill="#fff" />
<polygon points="414.3,398.6 416.3,398.6 415.3,399.8" fill="#fff" shape-rendering="geometricPrecision"/>
<rect x="416.5" y="400.8" width="3.5" height="6.2" fill="#fff" />
<rect x="417.7" y="408.1" width="1.6" height="3.1" fill="#fff" />
<polygon points="420.1,398.6 422.1,398.6 421.1,399.8" fill="#fff" shape-rendering="geometricPrecision"/>
<rect x="422.29" y="400.8" width="3.5" height="6.2" fill="#fff" />
<rect x="423.49" y="408.1" width="1.6" height="3.1" fill="#fff" />
<polygon points="425.9,398.6 427.9,398.6 426.9,399.8" fill="#fff" shape-rendering="geometricPrecision"/>
<rect x="428.08" y="400.8" width="3.5" height="6.2" fill="#fff" />
<rect x="429.28" y="408.1" width="1.6" height="3.1" fill="#fff" />
<polygon points="431.7,398.6 433.7,398.6 432.7,399.8" fill="#fff" shape-rendering="geometricPrecision"/>
<rect x="433.87" y="400.8" width="3.5" height="6.2" fill="#fff" />
<rect x="435.07" y="408.1" width="1.6" height="3.1" fill="#fff" />
<polygon points="437.5,398.6 439.5,398.6 438.5,399.8" fill="#fff" shape-rendering="geometricPrecision"/>
<rect x="439.66" y="400.8" width="3.5" height="6.2" fill="#fff" />
<rect x="440.86" y="408.1" width="1.6" height="3.1" fill="#fff" />
<polygon points="443.3,398.6 445.3,398.6 444.3,399.8" fill="#fff" shape-rendering="geometricPrecision"/>
<rect x="445.45" y="400.8" width="3.5" height="6.2" fill="#fff" />
<rect x="446.65" y="408.1" width="1.6" height="3.1" fill="#fff" />
<polygon points="449.1,398.6 451.1,398.6 450.1,399.8" fill="#fff" shape-rendering="geometricPrecision"/>
<rect x="451.24" y="400.8" width="3.5" height="6.2" fill="#fff" />
<rect x="452.44" y="408.1" width="1.6" height="3.1" fill="#fff" />
<polygon points="454.8,398.6 456.8,398.6 455.8,399.8" fill="#fff" shape-rendering="geometricPrecision"/>
<rect x="457.03" y="400.8" width="3.5" height="6.2" fill="#fff" />
<rect x="458.23" y="408.1" width="1.6" height="3.1" fill="#fff" />
<polygon points="460.6,398.6 462.6,398.6 461.6,399.8" fill="#fff" shape-rendering="geometricPrecision"/>
<rect x="462.82" y="400.8" width="3.5" height="6.2" fill="#fff" />
<rect x="464.02" y="408.1" width="1.6" height="3.1" fill="#fff" />
<polygon points="466.4,398.6 468.4,398.6 467.4,399.8" fill="#fff" shape-rendering="geometricPrecision"/>
<rect x="468.61" y="400.8" width="3.5" height="6.2" fill="#fff" />
<rect x="469.81" y="408.1" width="1.6" height="3.1" fill="#fff" />
<polygon points="472.2,398.6 474.2,398.6 473.2,399.8" fill="#fff" shape-rendering="geometricPrecision"/>
<rect x="474.4" y="400.8" width="3.5" height="6.2" fill="#fff" />
<rect x="475.6" y="408.1" width="1.6" height="3.1" fill="#fff" />
<polygon points="478.0,398.6 480.0,398.6 479.0,399.8" fill="#fff" shape-rendering="geometricPrecision"/>
<rect x="480.19" y="400.8" width="3.5" height="6.2" fill="#fff" />
<rect x="481.39" y="408.1" width="1.6" height="3.1" fill="#fff" />
<polygon points="483.8,398.6 485.8,398.6 484.8,399.8" fill="#fff" shape-rendering="geometricPrecision"/>
<rect x="485.98" y="400.8" width="3.5" height="6.2" fill="#fff" />
<rect x="487.18" y="408.1" width="1.6" height="3.1" fill="#fff" />
<polygon points="489.6,398.6 491.6,398.6 490.6,399.8" fill="#fff" shape-rendering="geometricPrecision"/>
<rect x="491.77" y="400.8" width="3.5" height="6.2" fill="#fff" />
<rect x="492.97" y="408.1" width="1.6" height="3.1" fill="#fff" />
<polygon points="495.4,398.6 497.4,398.6 496.4,399.8" fill="#fff" shape-rendering="geometricPrecision"/>
<rect x="497.56" y="400.8" width="3.5" height="6.2" fill="#fff" />
<rect x="498.76" y="408.1" width="1.6" height="3.1" fill="#fff" />
<polygon points="501.2,398.6 503.2,398.6 502.2,399.8" fill="#fff" shape-rendering="geometricPrecision"/>
<rect x="503.35" y="400.8" width="3.5" height="6.2" fill="#fff" />
<rect x="504.55" y="408.1" width="1.6" height="3.1" fill="#fff" />
<polygon points="507.0,398.6 509.0,398.6 508.0,399.8" fill="#fff" shape-rendering="geometricPrecision"/>
<rect x="509.14" y="400.8" width="3.5" height="6.2" fill="#fff" />
<rect x="510.34" y="408.1" width="1.6" height="3.1" fill="#fff" />
<polygon points="512.7,398.6 514.7,398.6 513.7,399.8" fill="#fff" shape-rendering="geometricPrecision"/>
<rect x="514.93" y="400.8" width="3.5" height="6.2" fill="#fff" />
<rect x="516.13" y="408.1" width="1.6" height="3.1" fill="#fff" />
<polygon points="518.5,398.6 520.5,398.6 519.5,399.8" fill="#fff" shape-rendering="geometricPrecision"/>
<rect x="520.72" y="400.8" width="3.5" height="6.2" fill="#fff" />
<rect x="521.92" y="408.1" width="1.6" height="3.1" fill="#fff" />
<polygon points="524.3,398.6 526.3,398.6 525.3,399.8" fill="#fff" shape-rendering="geometricPrecision"/>
<rect x="526.51" y="400.8" width="3.5" height="6.2" fill="#fff" />
<rect x="527.71" y="408.1" width="1.6" height="3.1" fill="#fff" />
<polygon points="530.1,398.6 532.1,398.6 531.1,399.8" fill="#fff" shape-rendering="geometricPrecision"/>
<rect x="330.5" y="416.1" width="225" height="19.099999999999966" fill="#fff" stroke="#000"/>
<rect x="330" y="434.1" width="226" height="1.6" fill="#000" />
<line x1="338.5" y1="415.6" x2="338.5" y2="434.7" stroke="#000" stroke-width="1" />
<line x1="330" y1="419.6" x2="338.5" y2="419.6" stroke="#000" stroke-width="1" />
<line x1="330" y1="426.8" x2="338.5" y2="426.8" stroke="#000" stroke-width="1" />
<rect x="338.6" y="417" width="3.2" height="17.7" fill="#000" />
<polyline points="341.8,419.4 351.6,419.4 351.6,428.2 348.8,428.2" fill="none" stroke="#000" stroke-width="1.1"/>
<polyline points="341.8,429.6 343.9,429.6 343.9,425.4 348.8,425.4 348.8,434.7" fill="none" stroke="#000" stroke-width="1.1"/>
<line x1="547.5" y1="415.6" x2="547.5" y2="434.7" stroke="#000" stroke-width="1" />
<line x1="556" y1="419.6" x2="547.5" y2="419.6" stroke="#000" stroke-width="1" />
<line x1="556" y1="426.8" x2="547.5" y2="426.8" stroke="#000" stroke-width="1" />
<rect x="544.2" y="417" width="3.2" height="17.7" fill="#000" />
<polyline points="544.2,419.4 534.4,419.4 534.4,428.2 537.2,428.2" fill="none" stroke="#000" stroke-width="1.1"/>
<polyline points="544.2,429.6 542.1,429.6 542.1,425.4 537.2,425.4 537.2,434.7" fill="none" stroke="#000" stroke-width="1.1"/>
<rect x="356" y="417.7" width="174" height="13.5" fill="#000" />
<rect x="358.6" y="419.6" width="3.5" height="6.2" fill="#fff" />
<rect x="359.8" y="426.9" width="1.6" height="3.1" fill="#fff" />
<polygon points="362.2,417.4 364.2,417.4 363.2,418.6" fill="#fff" shape-rendering="geometricPrecision"/>
<rect x="364.39" y="419.6" width="3.5" height="6.2" fill="#fff" />
<rect x="365.59" y="426.9" width="1.6" height="3.1" fill="#fff" />
<polygon points="368.0,417.4 370.0,417.4 369.0,418.6" fill="#fff" shape-rendering="geometricPrecision"/>
<rect x="370.18" y="419.6" width="3.5" height="6.2" fill="#fff" />
<rect x="371.38" y="426.9" width="1.6" height="3.1" fill="#fff" />
<polygon points="373.8,417.4 375.8,417.4 374.8,418.6" fill="#fff" shape-rendering="geometricPrecision"/>
<rect x="375.97" y="419.6" width="3.5" height="6.2" fill="#fff" />
<rect x="377.17" y="426.9" width="1.6" height="3.1" fill="#fff" />
<polygon points="379.6,417.4 381.6,417.4 380.6,418.6" fill="#fff" shape-rendering="geometricPrecision"/>
<rect x="381.76" y="419.6" width="3.5" height="6.2" fill="#fff" />
<rect x="382.96" y="426.9" width="1.6" height="3.1" fill="#fff" />
<polygon points="385.4,417.4 387.4,417.4 386.4,418.6" fill="#fff" shape-rendering="geometricPrecision"/>
<rect x="387.55" y="419.6" width="3.5" height="6.2" fill="#fff" />
<rect x="388.75" y="426.9" width="1.6" height="3.1" fill="#fff" />
<polygon points="391.2,417.4 393.2,417.4 392.2,418.6" fill="#fff" shape-rendering="geometricPrecision"/>
<rect x="393.34" y="419.6" width="3.5" height="6.2" fill="#fff" />
<rect x="394.54" y="426.9" width="1.6" height="3.1" fill="#fff" />
<polygon points="396.9,417.4 398.9,417.4 397.9,418.6" fill="#fff" shape-rendering="geometricPrecision"/>
<rect x="399.13" y="419.6" width="3.5" height="6.2" fill="#fff" />
<rect x="400.33" y="426.9" width="1.6" height="3.1" fill="#fff" />
<polygon points="402.7,417.4 404.7,417.4 403.7,418.6" fill="#fff" shape-rendering="geometricPrecision"/>
<rect x="404.92" y="419.6" width="3.5" height="6.2" fill="#fff" />
<rect x="406.12" y="426.9" width="1.6" height="3.1" fill="#fff" />
<polygon points="408.5,417.4 410.5,417.4 409.5,418.6" fill="#fff" shape-rendering="geometricPrecision"/>
<rect x="410.71" y="419.6" width="3.5" height="6.2" fill="#fff" />
<rect x="411.91" y="426.9" width="1.6" height="3.1" fill="#fff" />
<polygon points="414.3,417.4 416.3,417.4 415.3,418.6" fill="#fff" shape-rendering="geometricPrecision"/>
<rect x="416.5" y="419.6" width="3.5" height="6.2" fill="#fff" />
<rect x="417.7" y="426.9" width="1.6" height="3.1" fill="#fff" />
<polygon points="420.1,417.4 422.1,417.4 421.1,418.6" fill="#fff" shape-rendering="geometricPrecision"/>
<rect x="422.29" y="419.6" width="3.5" height="6.2" fill="#fff" />
<rect x="423.49" y="426.9" width="1.6" height="3.1" fill="#fff" />
<polygon points="425.9,417.4 427.9,417.4 426.9,418.6" fill="#fff" shape-rendering="geometricPrecision"/>
<rect x="428.08" y="419.6" width="3.5" height="6.2" fill="#fff" />
<rect x="429.28" y="426.9" width="1.6" height="3.1" fill="#fff" />
<polygon points="431.7,417.4 433.7,417.4 432.7,418.6" fill="#fff" shape-rendering="geometricPrecision"/>
<rect x="433.87" y="419.6" width="3.5" height="6.2" fill="#fff" />
<rect x="435.07" y="426.9" width="1.6" height="3.1" fill="#fff" />
<polygon points="437.5,417.4 439.5,417.4 438.5,418.6" fill="#fff" shape-rendering="geometricPrecision"/>
<rect x="439.66" y="419.6" width="3.5" height="6.2" fill="#fff" />
<rect x="440.86" y="426.9" width="1.6" height="3.1" fill="#fff" />
<polygon points="443.3,417.4 445.3,417.4 444.3,418.6" fill="#fff" shape-rendering="geometricPrecision"/>
<rect x="445.45" y="419.6" width="3.5" height="6.2" fill="#fff" />
<rect x="446.65" y="426.9" width="1.6" height="3.1" fill="#fff" />
<polygon points="449.1,417.4 451.1,417.4 450.1,418.6" fill="#fff" shape-rendering="geometricPrecision"/>
<rect x="451.24" y="419.6" width="3.5" height="6.2" fill="#fff" />
<rect x="452.44" y="426.9" width="1.6" height="3.1" fill="#fff" />
<polygon points="454.8,417.4 456.8,417.4 455.8,418.6" fill="#fff" shape-rendering="geometricPrecision"/>
<rect x="457.03" y="419.6" width="3.5" height="6.2" fill="#fff" />
<rect x="458.23" y="426.9" width="1.6" height="3.1" fill="#fff" />
<polygon points="460.6,417.4 462.6,417.4 461.6,418.6" fill="#fff" shape-rendering="geometricPrecision"/>
<rect x="462.82" y="419.6" width="3.5" height="6.2" fill="#fff" />
<rect x="464.02" y="426.9" width="1.6" height="3.1" fill="#fff" />
<polygon points="466.4,417.4 468.4,417.4 467.4,418.6" fill="#fff" shape-rendering="geometricPrecision"/>
<rect x="468.61" y="419.6" width="3.5" height="6.2" fill="#fff" />
<rect x="469.81" y="426.9" width="1.6" height="3.1" fill="#fff" />
<polygon points="472.2,417.4 474.2,417.4 473.2,418.6" fill="#fff" shape-rendering="geometricPrecision"/>
<rect x="474.4" y="419.6" width="3.5" height="6.2" fill="#fff" />
<rect x="475.6" y="426.9" width="1.6" height="3.1" fill="#fff" />
<polygon points="478.0,417.4 480.0,417.4 479.0,418.6" fill="#fff" shape-rendering="geometricPrecision"/>
<rect x="480.19" y="419.6" width="3.5" height="6.2" fill="#fff" />
<rect x="481.39" y="426.9" width="1.6" height="3.1" fill="#fff" />
<polygon points="483.8,417.4 485.8,417.4 484.8,418.6" fill="#fff" shape-rendering="geometricPrecision"/>
<rect x="485.98" y="419.6" width="3.5" height="6.2" fill="#fff" />
<rect x="487.18" y="426.9" width="1.6" height="3.1" fill="#fff" />
<polygon points="489.6,417.4 491.6,417.4 490.6,418.6" fill="#fff" shape-rendering="geometricPrecision"/>
<rect x="491.77" y="419.6" width="3.5" height="6.2" fill="#fff" />
<rect x="492.97" y="426.9" width="1.6" height="3.1" fill="#fff" />
<polygon points="495.4,417.4 497.4,417.4 496.4,418.6" fill="#fff" shape-rendering="geometricPrecision"/>
<rect x="497.56" y="419.6" width="3.5" height="6.2" fill="#fff" />
<rect x="498.76" y="426.9" width="1.6" height="3.1" fill="#fff" />
<polygon points="501.2,417.4 503.2,417.4 502.2,418.6" fill="#fff" shape-rendering="geometricPrecision"/>
<rect x="503.35" y="419.6" width="3.5" height="6.2" fill="#fff" />
<rect x="504.55" y="426.9" width="1.6" height="3.1" fill="#fff" />
<polygon points="507.0,417.4 509.0,417.4 508.0,418.6" fill="#fff" shape-rendering="geometricPrecision"/>
<rect x="509.14" y="419.6" width="3.5" height="6.2" fill="#fff" />
<rect x="510.34" y="426.9" width="1.6" height="3.1" fill="#fff" />
<polygon points="512.7,417.4 514.7,417.4 513.7,418.6" fill="#fff" shape-rendering="geometricPrecision"/>
<rect x="514.93" y="419.6" width="3.5" height="6.2" fill="#fff" />
<rect x="516.13" y="426.9" width="1.6" height="3.1" fill="#fff" />
<polygon points="518.5,417.4 520.5,417.4 519.5,418.6" fill="#fff" shape-rendering="geometricPrecision"/>
<rect x="520.72" y="419.6" width="3.5" height="6.2" fill="#fff" />
<rect x="521.92" y="426.9" width="1.6" height="3.1" fill="#fff" />
<polygon points="524.3,417.4 526.3,417.4 525.3,418.6" fill="#fff" shape-rendering="geometricPrecision"/>
<rect x="526.51" y="419.6" width="3.5" height="6.2" fill="#fff" />
<rect x="527.71" y="426.9" width="1.6" height="3.1" fill="#fff" />
<polygon points="530.1,417.4 532.1,417.4 531.1,418.6" fill="#fff" shape-rendering="geometricPrecision"/>
<rect x="330.5" y="435.7" width="225" height="18.69999999999999" fill="#fff" stroke="#000"/>
<rect x="330" y="453.3" width="226" height="1.6" fill="#000" />
<line x1="338.5" y1="435.2" x2="338.5" y2="453.9" stroke="#000" stroke-width="1" />
<line x1="330" y1="439.2" x2="338.5" y2="439.2" stroke="#000" stroke-width="1" />
<line x1="330" y1="446.4" x2="338.5" y2="446.4" stroke="#000" stroke-width="1" />
<rect x="338.6" y="436.6" width="3.2" height="17.3" fill="#000" />
<polyline points="341.8,439.0 351.6,439.0 351.6,447.8 348.8,447.8" fill="none" stroke="#000" stroke-width="1.1"/>
<polyline points="341.8,449.2 343.9,449.2 343.9,445.0 348.8,445.0 348.8,453.9" fill="none" stroke="#000" stroke-width="1.1"/>
<line x1="547.5" y1="435.2" x2="547.5" y2="453.9" stroke="#000" stroke-width="1" />
<line x1="556" y1="439.2" x2="547.5" y2="439.2" stroke="#000" stroke-width="1" />
<line x1="556" y1="446.4" x2="547.5" y2="446.4" stroke="#000" stroke-width="1" />
<rect x="544.2" y="436.6" width="3.2" height="17.3" fill="#000" />
<polyline points="544.2,439.0 534.4,439.0 534.4,447.8 537.2,447.8" fill="none" stroke="#000" stroke-width="1.1"/>
<polyline points="544.2,449.2 542.1,449.2 542.1,445.0 537.2,445.0 537.2,453.9" fill="none" stroke="#000" stroke-width="1.1"/>
<rect x="356" y="437.3" width="174" height="13.5" fill="#000" />
<rect x="358.6" y="439.2" width="3.5" height="6.2" fill="#fff" />
<rect x="359.8" y="446.5" width="1.6" height="3.1" fill="#fff" />
<polygon points="362.2,437.0 364.2,437.0 363.2,438.2" fill="#fff" shape-rendering="geometricPrecision"/>
<rect x="364.39" y="439.2" width="3.5" height="6.2" fill="#fff" />
<rect x="365.59" y="446.5" width="1.6" height="3.1" fill="#fff" />
<polygon points="368.0,437.0 370.0,437.0 369.0,438.2" fill="#fff" shape-rendering="geometricPrecision"/>
<rect x="370.18" y="439.2" width="3.5" height="6.2" fill="#fff" />
<rect x="371.38" y="446.5" width="1.6" height="3.1" fill="#fff" />
<polygon points="373.8,437.0 375.8,437.0 374.8,438.2" fill="#fff" shape-rendering="geometricPrecision"/>
<rect x="375.97" y="439.2" width="3.5" height="6.2" fill="#fff" />
<rect x="377.17" y="446.5" width="1.6" height="3.1" fill="#fff" />
<polygon points="379.6,437.0 381.6,437.0 380.6,438.2" fill="#fff" shape-rendering="geometricPrecision"/>
<rect x="381.76" y="439.2" width="3.5" height="6.2" fill="#fff" />
<rect x="382.96" y="446.5" width="1.6" height="3.1" fill="#fff" />
<polygon points="385.4,437.0 387.4,437.0 386.4,438.2" fill="#fff" shape-rendering="geometricPrecision"/>
<rect x="387.55" y="439.2" width="3.5" height="6.2" fill="#fff" />
<rect x="388.75" y="446.5" width="1.6" height="3.1" fill="#fff" />
<polygon points="391.2,437.0 393.2,437.0 392.2,438.2" fill="#fff" shape-rendering="geometricPrecision"/>
<rect x="393.34" y="439.2" width="3.5" height="6.2" fill="#fff" />
<rect x="394.54" y="446.5" width="1.6" height="3.1" fill="#fff" />
<polygon points="396.9,437.0 398.9,437.0 397.9,438.2" fill="#fff" shape-rendering="geometricPrecision"/>
<rect x="399.13" y="439.2" width="3.5" height="6.2" fill="#fff" />
<rect x="400.33" y="446.5" width="1.6" height="3.1" fill="#fff" />
<polygon points="402.7,437.0 404.7,437.0 403.7,438.2" fill="#fff" shape-rendering="geometricPrecision"/>
<rect x="404.92" y="439.2" width="3.5" height="6.2" fill="#fff" />
<rect x="406.12" y="446.5" width="1.6" height="3.1" fill="#fff" />
<polygon points="408.5,437.0 410.5,437.0 409.5,438.2" fill="#fff" shape-rendering="geometricPrecision"/>
<rect x="410.71" y="439.2" width="3.5" height="6.2" fill="#fff" />
<rect x="411.91" y="446.5" width="1.6" height="3.1" fill="#fff" />
<polygon points="414.3,437.0 416.3,437.0 415.3,438.2" fill="#fff" shape-rendering="geometricPrecision"/>
<rect x="416.5" y="439.2" width="3.5" height="6.2" fill="#fff" />
<rect x="417.7" y="446.5" width="1.6" height="3.1" fill="#fff" />
<polygon points="420.1,437.0 422.1,437.0 421.1,438.2" fill="#fff" shape-rendering="geometricPrecision"/>
<rect x="422.29" y="439.2" width="3.5" height="6.2" fill="#fff" />
<rect x="423.49" y="446.5" width="1.6" height="3.1" fill="#fff" />
<polygon points="425.9,437.0 427.9,437.0 426.9,438.2" fill="#fff" shape-rendering="geometricPrecision"/>
<rect x="428.08" y="439.2" width="3.5" height="6.2" fill="#fff" />
<rect x="429.28" y="446.5" width="1.6" height="3.1" fill="#fff" />
<polygon points="431.7,437.0 433.7,437.0 432.7,438.2" fill="#fff" shape-rendering="geometricPrecision"/>
<rect x="433.87" y="439.2" width="3.5" height="6.2" fill="#fff" />
<rect x="435.07" y="446.5" width="1.6" height="3.1" fill="#fff" />
<polygon points="437.5,437.0 439.5,437.0 438.5,438.2" fill="#fff" shape-rendering="geometricPrecision"/>
<rect x="439.66" y="439.2" width="3.5" height="6.2" fill="#fff" />
<rect x="440.86" y="446.5" width="1.6" height="3.1" fill="#fff" />
<polygon points="443.3,437.0 445.3,437.0 444.3,438.2" fill="#fff" shape-rendering="geometricPrecision"/>
<rect x="445.45" y="439.2" width="3.5" height="6.2" fill="#fff" />
<rect x="446.65" y="446.5" width="1.6" height="3.1" fill="#fff" />
<polygon points="449.1,437.0 451.1,437.0 450.1,438.2" fill="#fff" shape-rendering="geometricPrecision"/>
<rect x="451.24" y="439.2" width="3.5" height="6.2" fill="#fff" />
<rect x="452.44" y="446.5" width="1.6" height="3.1" fill="#fff" />
<polygon points="454.8,437.0 456.8,437.0 455.8,438.2" fill="#fff" shape-rendering="geometricPrecision"/>
<rect x="457.03" y="439.2" width="3.5" height="6.2" fill="#fff" />
<rect x="458.23" y="446.5" width="1.6" height="3.1" fill="#fff" />
<polygon points="460.6,437.0 462.6,437.0 461.6,438.2" fill="#fff" shape-rendering="geometricPrecision"/>
<rect x="462.82" y="439.2" width="3.5" height="6.2" fill="#fff" />
<rect x="464.02" y="446.5" width="1.6" height="3.1" fill="#fff" />
<polygon points="466.4,437.0 468.4,437.0 467.4,438.2" fill="#fff" shape-rendering="geometricPrecision"/>
<rect x="468.61" y="439.2" width="3.5" height="6.2" fill="#fff" />
<rect x="469.81" y="446.5" width="1.6" height="3.1" fill="#fff" />
<polygon points="472.2,437.0 474.2,437.0 473.2,438.2" fill="#fff" shape-rendering="geometricPrecision"/>
<rect x="474.4" y="439.2" width="3.5" height="6.2" fill="#fff" />
<rect x="475.6" y="446.5" width="1.6" height="3.1" fill="#fff" />
<polygon points="478.0,437.0 480.0,437.0 479.0,438.2" fill="#fff" shape-rendering="geometricPrecision"/>
<rect x="480.19" y="439.2" width="3.5" height="6.2" fill="#fff" />
<rect x="481.39" y="446.5" width="1.6" height="3.1" fill="#fff" />
<polygon points="483.8,437.0 485.8,437.0 484.8,438.2" fill="#fff" shape-rendering="geometricPrecision"/>
<rect x="485.98" y="439.2" width="3.5" height="6.2" fill="#fff" />
<rect x="487.18" y="446.5" width="1.6" height="3.1" fill="#fff" />
<polygon points="489.6,437.0 491.6,437.0 490.6,438.2" fill="#fff" shape-rendering="geometricPrecision"/>
<rect x="491.77" y="439.2" width="3.5" height="6.2" fill="#fff" />
<rect x="492.97" y="446.5" width="1.6" height="3.1" fill="#fff" />
<polygon points="495.4,437.0 497.4,437.0 496.4,438.2" fill="#fff" shape-rendering="geometricPrecision"/>
<rect x="497.56" y="439.2" width="3.5" height="6.2" fill="#fff" />
<rect x="498.76" y="446.5" width="1.6" height="3.1" fill="#fff" />
<polygon points="501.2,437.0 503.2,437.0 502.2,438.2" fill="#fff" shape-rendering="geometricPrecision"/>
<rect x="503.35" y="439.2" width="3.5" height="6.2" fill="#fff" />
<rect x="504.55" y="446.5" width="1.6" height="3.1" fill="#fff" />
<polygon points="507.0,437.0 509.0,437.0 508.0,438.2" fill="#fff" shape-rendering="geometricPrecision"/>
<rect x="509.14" y="439.2" width="3.5" height="6.2" fill="#fff" />
<rect x="510.34" y="446.5" width="1.6" height="3.1" fill="#fff" />
<polygon points="512.7,437.0 514.7,437.0 513.7,438.2" fill="#fff" shape-rendering="geometricPrecision"/>
<rect x="514.93" y="439.2" width="3.5" height="6.2" fill="#fff" />
<rect x="516.13" y="446.5" width="1.6" height="3.1" fill="#fff" />
<polygon points="518.5,437.0 520.5,437.0 519.5,438.2" fill="#fff" shape-rendering="geometricPrecision"/>
<rect x="520.72" y="439.2" width="3.5" height="6.2" fill="#fff" />
<rect x="521.92" y="446.5" width="1.6" height="3.1" fill="#fff" />
<polygon points="524.3,437.0 526.3,437.0 525.3,438.2" fill="#fff" shape-rendering="geometricPrecision"/>
<rect x="526.51" y="439.2" width="3.5" height="6.2" fill="#fff" />
<rect x="527.71" y="446.5" width="1.6" height="3.1" fill="#fff" />
<polygon points="530.1,437.0 532.1,437.0 531.1,438.2" fill="#fff" shape-rendering="geometricPrecision"/>
<rect x="278.5" y="457.9" width="277" height="14.300000000000011" fill="#fff" stroke="#000"/>
<line x1="286.5" y1="457.4" x2="286.5" y2="472.7" stroke="#000" stroke-width="1" />
<line x1="278" y1="461" x2="286.5" y2="461" stroke="#000" stroke-width="1" />
<line x1="278" y1="466.9" x2="286.5" y2="466.9" stroke="#000" stroke-width="1" />
<rect x="287" y="459" width="1.3" height="12.3" fill="#000" />
<rect x="289.4" y="460" width="1.3" height="11.3" fill="#000" />
<polyline points="290.6,460.9 299.6,460.9 299.6,466.9 297.8,466.9" fill="none" stroke="#000" stroke-width="1.1"/>
<polyline points="290.6,469.2 293.1,469.2 293.1,466.0 297.8,466.0 297.8,472.2" fill="none" stroke="#000" stroke-width="1.1"/>
<line x1="547.5" y1="457.4" x2="547.5" y2="472.7" stroke="#000" stroke-width="1" />
<line x1="556" y1="461" x2="547.5" y2="461" stroke="#000" stroke-width="1" />
<line x1="556" y1="466.9" x2="547.5" y2="466.9" stroke="#000" stroke-width="1" />
<rect x="545.7" y="459" width="1.3" height="12.3" fill="#000" />
<rect x="543.3" y="460" width="1.3" height="11.3" fill="#000" />
<polyline points="543.4,460.9 534.4,460.9 534.4,466.9 536.2,466.9" fill="none" stroke="#000" stroke-width="1.1"/>
<polyline points="543.4,469.2 540.9,469.2 540.9,466.0 536.2,466.0 536.2,472.2" fill="none" stroke="#000" stroke-width="1.1"/>
<rect x="302" y="460.2" width="230" height="10.4" fill="#000" />
<rect x="304.9" y="461.2" width="1.2" height="4.8" fill="#fff" />
<rect x="307.5" y="461.2" width="1.2" height="4.8" fill="#fff" />
<rect x="310.1" y="461.2" width="1.2" height="4.8" fill="#fff" />
<rect x="312.7" y="461.2" width="1.2" height="4.8" fill="#fff" />
<rect x="315.3" y="461.2" width="1.2" height="4.8" fill="#fff" />
<rect x="317.9" y="461.2" width="1.2" height="4.8" fill="#fff" />
<rect x="320.5" y="461.2" width="1.2" height="4.8" fill="#fff" />
<rect x="323.1" y="461.2" width="1.2" height="4.8" fill="#fff" />
<rect x="325.7" y="461.2" width="1.2" height="4.8" fill="#fff" />
<rect x="328.3" y="461.2" width="1.2" height="4.8" fill="#fff" />
<rect x="330.9" y="461.2" width="1.2" height="4.8" fill="#fff" />
<rect x="333.5" y="461.2" width="1.2" height="4.8" fill="#fff" />
<rect x="336.1" y="461.2" width="1.2" height="4.8" fill="#fff" />
<rect x="338.7" y="461.2" width="1.2" height="4.8" fill="#fff" />
<rect x="341.3" y="461.2" width="1.2" height="4.8" fill="#fff" />
<rect x="343.9" y="461.2" width="1.2" height="4.8" fill="#fff" />
<rect x="346.5" y="461.2" width="1.2" height="4.8" fill="#fff" />
<rect x="349.1" y="461.2" width="1.2" height="4.8" fill="#fff" />
<rect x="351.7" y="461.2" width="1.2" height="4.8" fill="#fff" />
<rect x="354.3" y="461.2" width="1.2" height="4.8" fill="#fff" />
<rect x="356.9" y="461.2" width="1.2" height="4.8" fill="#fff" />
<rect x="359.5" y="461.2" width="1.2" height="4.8" fill="#fff" />
<rect x="362.1" y="461.2" width="1.2" height="4.8" fill="#fff" />
<rect x="364.7" y="461.2" width="1.2" height="4.8" fill="#fff" />
<rect x="367.3" y="461.2" width="1.2" height="4.8" fill="#fff" />
<rect x="369.9" y="461.2" width="1.2" height="4.8" fill="#fff" />
<rect x="372.5" y="461.2" width="1.2" height="4.8" fill="#fff" />
<rect x="375.1" y="461.2" width="1.2" height="4.8" fill="#fff" />
<rect x="377.7" y="461.2" width="1.2" height="4.8" fill="#fff" />
<rect x="380.3" y="461.2" width="1.2" height="4.8" fill="#fff" />
<rect x="382.9" y="461.2" width="1.2" height="4.8" fill="#fff" />
<rect x="385.5" y="461.2" width="1.2" height="4.8" fill="#fff" />
<rect x="388.1" y="461.2" width="1.2" height="4.8" fill="#fff" />
<rect x="390.7" y="461.2" width="1.2" height="4.8" fill="#fff" />
<rect x="393.3" y="461.2" width="1.2" height="4.8" fill="#fff" />
<rect x="395.9" y="461.2" width="1.2" height="4.8" fill="#fff" />
<rect x="398.5" y="461.2" width="1.2" height="4.8" fill="#fff" />
<rect x="401.1" y="461.2" width="1.2" height="4.8" fill="#fff" />
<rect x="403.7" y="461.2" width="1.2" height="4.8" fill="#fff" />
<rect x="406.3" y="461.2" width="1.2" height="4.8" fill="#fff" />
<rect x="408.9" y="461.2" width="1.2" height="4.8" fill="#fff" />
<rect x="411.5" y="461.2" width="1.2" height="4.8" fill="#fff" />
<rect x="414.1" y="461.2" width="1.2" height="4.8" fill="#fff" />
<rect x="416.7" y="461.2" width="1.2" height="4.8" fill="#fff" />
<rect x="419.3" y="461.2" width="1.2" height="4.8" fill="#fff" />
<rect x="421.9" y="461.2" width="1.2" height="4.8" fill="#fff" />
<rect x="424.5" y="461.2" width="1.2" height="4.8" fill="#fff" />
<rect x="427.1" y="461.2" width="1.2" height="4.8" fill="#fff" />
<rect x="429.7" y="461.2" width="1.2" height="4.8" fill="#fff" />
<rect x="432.3" y="461.2" width="1.2" height="4.8" fill="#fff" />
<rect x="434.9" y="461.2" width="1.2" height="4.8" fill="#fff" />
<rect x="437.5" y="461.2" width="1.2" height="4.8" fill="#fff" />
<rect x="440.1" y="461.2" width="1.2" height="4.8" fill="#fff" />
<rect x="442.7" y="461.2" width="1.2" height="4.8" fill="#fff" />
<rect x="445.3" y="461.2" width="1.2" height="4.8" fill="#fff" />
<rect x="447.9" y="461.2" width="1.2" height="4.8" fill="#fff" />
<rect x="450.5" y="461.2" width="1.2" height="4.8" fill="#fff" />
<rect x="453.1" y="461.2" width="1.2" height="4.8" fill="#fff" />
<rect x="455.7" y="461.2" width="1.2" height="4.8" fill="#fff" />
<rect x="458.3" y="461.2" width="1.2" height="4.8" fill="#fff" />
<rect x="460.9" y="461.2" width="1.2" height="4.8" fill="#fff" />
<rect x="463.5" y="461.2" width="1.2" height="4.8" fill="#fff" />
<rect x="466.1" y="461.2" width="1.2" height="4.8" fill="#fff" />
<rect x="468.7" y="461.2" width="1.2" height="4.8" fill="#fff" />
<rect x="471.3" y="461.2" width="1.2" height="4.8" fill="#fff" />
<rect x="473.9" y="461.2" width="1.2" height="4.8" fill="#fff" />
<rect x="476.5" y="461.2" width="1.2" height="4.8" fill="#fff" />
<rect x="479.1" y="461.2" width="1.2" height="4.8" fill="#fff" />
<rect x="481.7" y="461.2" width="1.2" height="4.8" fill="#fff" />
<rect x="484.3" y="461.2" width="1.2" height="4.8" fill="#fff" />
<rect x="486.9" y="461.2" width="1.2" height="4.8" fill="#fff" />
<rect x="489.5" y="461.2" width="1.2" height="4.8" fill="#fff" />
<rect x="492.1" y="461.2" width="1.2" height="4.8" fill="#fff" />
<rect x="494.7" y="461.2" width="1.2" height="4.8" fill="#fff" />
<rect x="497.3" y="461.2" width="1.2" height="4.8" fill="#fff" />
<rect x="499.9" y="461.2" width="1.2" height="4.8" fill="#fff" />
<rect x="502.5" y="461.2" width="1.2" height="4.8" fill="#fff" />
<rect x="505.1" y="461.2" width="1.2" height="4.8" fill="#fff" />
<rect x="507.7" y="461.2" width="1.2" height="4.8" fill="#fff" />
<rect x="510.3" y="461.2" width="1.2" height="4.8" fill="#fff" />
<rect x="512.9" y="461.2" width="1.2" height="4.8" fill="#fff" />
<rect x="515.5" y="461.2" width="1.2" height="4.8" fill="#fff" />
<rect x="518.1" y="461.2" width="1.2" height="4.8" fill="#fff" />
<rect x="520.7" y="461.2" width="1.2" height="4.8" fill="#fff" />
<rect x="523.3" y="461.2" width="1.2" height="4.8" fill="#fff" />
<rect x="525.9" y="461.2" width="1.2" height="4.8" fill="#fff" />
<rect x="528.5" y="461.2" width="1.2" height="4.8" fill="#fff" />
<rect x="278.5" y="476.5" width="277" height="14.899999999999977" fill="#fff" stroke="#000"/>
<line x1="286.5" y1="476" x2="286.5" y2="491.9" stroke="#000" stroke-width="1" />
<line x1="278" y1="479.6" x2="286.5" y2="479.6" stroke="#000" stroke-width="1" />
<line x1="278" y1="485.5" x2="286.5" y2="485.5" stroke="#000" stroke-width="1" />
<rect x="287" y="477.6" width="1.3" height="12.9" fill="#000" />
<rect x="289.4" y="478.6" width="1.3" height="11.9" fill="#000" />
<polyline points="290.6,479.5 299.6,479.5 299.6,485.5 297.8,485.5" fill="none" stroke="#000" stroke-width="1.1"/>
<polyline points="290.6,487.8 293.1,487.8 293.1,484.6 297.8,484.6 297.8,491.4" fill="none" stroke="#000" stroke-width="1.1"/>
<line x1="547.5" y1="476" x2="547.5" y2="491.9" stroke="#000" stroke-width="1" />
<line x1="556" y1="479.6" x2="547.5" y2="479.6" stroke="#000" stroke-width="1" />
<line x1="556" y1="485.5" x2="547.5" y2="485.5" stroke="#000" stroke-width="1" />
<rect x="545.7" y="477.6" width="1.3" height="12.9" fill="#000" />
<rect x="543.3" y="478.6" width="1.3" height="11.9" fill="#000" />
<polyline points="543.4,479.5 534.4,479.5 534.4,485.5 536.2,485.5" fill="none" stroke="#000" stroke-width="1.1"/>
<polyline points="543.4,487.8 540.9,487.8 540.9,484.6 536.2,484.6 536.2,491.4" fill="none" stroke="#000" stroke-width="1.1"/>
<rect x="302" y="478.8" width="230" height="10.4" fill="#000" />
<rect x="304.9" y="479.8" width="1.2" height="4.8" fill="#fff" />
<rect x="307.5" y="479.8" width="1.2" height="4.8" fill="#fff" />
<rect x="310.1" y="479.8" width="1.2" height="4.8" fill="#fff" />
<rect x="312.7" y="479.8" width="1.2" height="4.8" fill="#fff" />
<rect x="315.3" y="479.8" width="1.2" height="4.8" fill="#fff" />
<rect x="317.9" y="479.8" width="1.2" height="4.8" fill="#fff" />
<rect x="320.5" y="479.8" width="1.2" height="4.8" fill="#fff" />
<rect x="323.1" y="479.8" width="1.2" height="4.8" fill="#fff" />
<rect x="325.7" y="479.8" width="1.2" height="4.8" fill="#fff" />
<rect x="328.3" y="479.8" width="1.2" height="4.8" fill="#fff" />
<rect x="330.9" y="479.8" width="1.2" height="4.8" fill="#fff" />
<rect x="333.5" y="479.8" width="1.2" height="4.8" fill="#fff" />
<rect x="336.1" y="479.8" width="1.2" height="4.8" fill="#fff" />
<rect x="338.7" y="479.8" width="1.2" height="4.8" fill="#fff" />
<rect x="341.3" y="479.8" width="1.2" height="4.8" fill="#fff" />
<rect x="343.9" y="479.8" width="1.2" height="4.8" fill="#fff" />
<rect x="346.5" y="479.8" width="1.2" height="4.8" fill="#fff" />
<rect x="349.1" y="479.8" width="1.2" height="4.8" fill="#fff" />
<rect x="351.7" y="479.8" width="1.2" height="4.8" fill="#fff" />
<rect x="354.3" y="479.8" width="1.2" height="4.8" fill="#fff" />
<rect x="356.9" y="479.8" width="1.2" height="4.8" fill="#fff" />
<rect x="359.5" y="479.8" width="1.2" height="4.8" fill="#fff" />
<rect x="362.1" y="479.8" width="1.2" height="4.8" fill="#fff" />
<rect x="364.7" y="479.8" width="1.2" height="4.8" fill="#fff" />
<rect x="367.3" y="479.8" width="1.2" height="4.8" fill="#fff" />
<rect x="369.9" y="479.8" width="1.2" height="4.8" fill="#fff" />
<rect x="372.5" y="479.8" width="1.2" height="4.8" fill="#fff" />
<rect x="375.1" y="479.8" width="1.2" height="4.8" fill="#fff" />
<rect x="377.7" y="479.8" width="1.2" height="4.8" fill="#fff" />
<rect x="380.3" y="479.8" width="1.2" height="4.8" fill="#fff" />
<rect x="382.9" y="479.8" width="1.2" height="4.8" fill="#fff" />
<rect x="385.5" y="479.8" width="1.2" height="4.8" fill="#fff" />
<rect x="388.1" y="479.8" width="1.2" height="4.8" fill="#fff" />
<rect x="390.7" y="479.8" width="1.2" height="4.8" fill="#fff" />
<rect x="393.3" y="479.8" width="1.2" height="4.8" fill="#fff" />
<rect x="395.9" y="479.8" width="1.2" height="4.8" fill="#fff" />
<rect x="398.5" y="479.8" width="1.2" height="4.8" fill="#fff" />
<rect x="401.1" y="479.8" width="1.2" height="4.8" fill="#fff" />
<rect x="403.7" y="479.8" width="1.2" height="4.8" fill="#fff" />
<rect x="406.3" y="479.8" width="1.2" height="4.8" fill="#fff" />
<rect x="408.9" y="479.8" width="1.2" height="4.8" fill="#fff" />
<rect x="411.5" y="479.8" width="1.2" height="4.8" fill="#fff" />
<rect x="414.1" y="479.8" width="1.2" height="4.8" fill="#fff" />
<rect x="416.7" y="479.8" width="1.2" height="4.8" fill="#fff" />
<rect x="419.3" y="479.8" width="1.2" height="4.8" fill="#fff" />
<rect x="421.9" y="479.8" width="1.2" height="4.8" fill="#fff" />
<rect x="424.5" y="479.8" width="1.2" height="4.8" fill="#fff" />
<rect x="427.1" y="479.8" width="1.2" height="4.8" fill="#fff" />
<rect x="429.7" y="479.8" width="1.2" height="4.8" fill="#fff" />
<rect x="432.3" y="479.8" width="1.2" height="4.8" fill="#fff" />
<rect x="434.9" y="479.8" width="1.2" height="4.8" fill="#fff" />
<rect x="437.5" y="479.8" width="1.2" height="4.8" fill="#fff" />
<rect x="440.1" y="479.8" width="1.2" height="4.8" fill="#fff" />
<rect x="442.7" y="479.8" width="1.2" height="4.8" fill="#fff" />
<rect x="445.3" y="479.8" width="1.2" height="4.8" fill="#fff" />
<rect x="447.9" y="479.8" width="1.2" height="4.8" fill="#fff" />
<rect x="450.5" y="479.8" width="1.2" height="4.8" fill="#fff" />
<rect x="453.1" y="479.8" width="1.2" height="4.8" fill="#fff" />
<rect x="455.7" y="479.8" width="1.2" height="4.8" fill="#fff" />
<rect x="458.3" y="479.8" width="1.2" height="4.8" fill="#fff" />
<rect x="460.9" y="479.8" width="1.2" height="4.8" fill="#fff" />
<rect x="463.5" y="479.8" width="1.2" height="4.8" fill="#fff" />
<rect x="466.1" y="479.8" width="1.2" height="4.8" fill="#fff" />
<rect x="468.7" y="479.8" width="1.2" height="4.8" fill="#fff" />
<rect x="471.3" y="479.8" width="1.2" height="4.8" fill="#fff" />
<rect x="473.9" y="479.8" width="1.2" height="4.8" fill="#fff" />
<rect x="476.5" y="479.8" width="1.2" height="4.8" fill="#fff" />
<rect x="479.1" y="479.8" width="1.2" height="4.8" fill="#fff" />
<rect x="481.7" y="479.8" width="1.2" height="4.8" fill="#fff" />
<rect x="484.3" y="479.8" width="1.2" height="4.8" fill="#fff" />
<rect x="486.9" y="479.8" width="1.2" height="4.8" fill="#fff" />
<rect x="489.5" y="479.8" width="1.2" height="4.8" fill="#fff" />
<rect x="492.1" y="479.8" width="1.2" height="4.8" fill="#fff" />
<rect x="494.7" y="479.8" width="1.2" height="4.8" fill="#fff" />
<rect x="497.3" y="479.8" width="1.2" height="4.8" fill="#fff" />
<rect x="499.9" y="479.8" width="1.2" height="4.8" fill="#fff" />
<rect x="502.5" y="479.8" width="1.2" height="4.8" fill="#fff" />
<rect x="505.1" y="479.8" width="1.2" height="4.8" fill="#fff" />
<rect x="507.7" y="479.8" width="1.2" height="4.8" fill="#fff" />
<rect x="510.3" y="479.8" width="1.2" height="4.8" fill="#fff" />
<rect x="512.9" y="479.8" width="1.2" height="4.8" fill="#fff" />
<rect x="515.5" y="479.8" width="1.2" height="4.8" fill="#fff" />
<rect x="518.1" y="479.8" width="1.2" height="4.8" fill="#fff" />
<rect x="520.7" y="479.8" width="1.2" height="4.8" fill="#fff" />
<rect x="523.3" y="479.8" width="1.2" height="4.8" fill="#fff" />
<rect x="525.9" y="479.8" width="1.2" height="4.8" fill="#fff" />
<rect x="528.5" y="479.8" width="1.2" height="4.8" fill="#fff" />
<rect x="568.5" y="379.5" width="23" height="111" fill="#fff" stroke="#000"/>
<polyline points="571.5,380.0 571.5,382.5 573.5,382.5" fill="none" stroke="#000" stroke-width="1"/>
<polyline points="576.5,382.5 578.5,382.5 578.5,380.0" fill="none" stroke="#000" stroke-width="1"/>
<rect x="571.5" y="385.0" width="7.5" height="6.6" fill="#fff" stroke="#000"/>
<rect x="580.2" y="380.8" width="1.8" height="6.8" fill="#000" />
<rect x="586.5" y="381.4" width="2" height="5.6" fill="#fff" stroke="#000"/>
<rect x="585" y="383.2" width="1.4" height="2.6" fill="#000" />
<rect x="571.5" y="394.1" width="7.5" height="6.6" fill="#fff" stroke="#000"/>
<rect x="580.2" y="389.9" width="1.8" height="6.8" fill="#000" />
<rect x="586.5" y="390.5" width="2" height="5.6" fill="#fff" stroke="#000"/>
<rect x="585" y="392.3" width="1.4" height="2.6" fill="#000" />
<rect x="571.5" y="403.2" width="7.5" height="6.6" fill="#fff" stroke="#000"/>
<rect x="580.2" y="399" width="1.8" height="6.8" fill="#000" />
<rect x="586.5" y="399.6" width="2" height="5.6" fill="#fff" stroke="#000"/>
<rect x="585" y="401.4" width="1.4" height="2.6" fill="#000" />
<rect x="571.5" y="412.3" width="7.5" height="6.6" fill="#fff" stroke="#000"/>
<rect x="580.2" y="408.1" width="1.8" height="6.8" fill="#000" />
<rect x="586.5" y="408.7" width="2" height="5.6" fill="#fff" stroke="#000"/>
<rect x="585" y="410.5" width="1.4" height="2.6" fill="#000" />
<rect x="571.5" y="421.4" width="7.5" height="6.6" fill="#fff" stroke="#000"/>
<rect x="580.2" y="417.2" width="1.8" height="6.8" fill="#000" />
<rect x="586.5" y="417.8" width="2" height="5.6" fill="#fff" stroke="#000"/>
<rect x="585" y="419.6" width="1.4" height="2.6" fill="#000" />
<rect x="571.5" y="430.5" width="7.5" height="6.6" fill="#fff" stroke="#000"/>
<rect x="580.2" y="426.3" width="1.8" height="6.8" fill="#000" />
<rect x="586.5" y="426.9" width="2" height="5.6" fill="#fff" stroke="#000"/>
<rect x="585" y="428.7" width="1.4" height="2.6" fill="#000" />
<rect x="571.5" y="439.6" width="7.5" height="6.6" fill="#fff" stroke="#000"/>
<rect x="580.2" y="435.4" width="1.8" height="6.8" fill="#000" />
<rect x="586.5" y="436.0" width="2" height="5.6" fill="#fff" stroke="#000"/>
<rect x="585" y="437.8" width="1.4" height="2.6" fill="#000" />
<rect x="571.5" y="448.7" width="7.5" height="6.6" fill="#fff" stroke="#000"/>
<rect x="580.2" y="444.5" width="1.8" height="6.8" fill="#000" />
<rect x="586.5" y="445.1" width="2" height="5.6" fill="#fff" stroke="#000"/>
<rect x="585" y="446.9" width="1.4" height="2.6" fill="#000" />
<rect x="571.5" y="457.8" width="7.5" height="6.6" fill="#fff" stroke="#000"/>
<rect x="580.2" y="453.6" width="1.8" height="6.8" fill="#000" />
<rect x="586.5" y="454.2" width="2" height="5.6" fill="#fff" stroke="#000"/>
<rect x="585" y="456" width="1.4" height="2.6" fill="#000" />
<rect x="571.5" y="466.9" width="7.5" height="6.6" fill="#fff" stroke="#000"/>
<rect x="580.2" y="462.7" width="1.8" height="6.8" fill="#000" />
<rect x="586.5" y="463.3" width="2" height="5.6" fill="#fff" stroke="#000"/>
<rect x="585" y="465.1" width="1.4" height="2.6" fill="#000" />
<rect x="571.5" y="476.0" width="7.5" height="6.6" fill="#fff" stroke="#000"/>
<rect x="580.2" y="471.8" width="1.8" height="6.8" fill="#000" />
<rect x="586.5" y="472.4" width="2" height="5.6" fill="#fff" stroke="#000"/>
<rect x="585" y="474.2" width="1.4" height="2.6" fill="#000" />
<rect x="571.5" y="485.1" width="7.5" height="6.6" fill="#fff" stroke="#000"/>
<rect x="580.2" y="480.9" width="1.8" height="6.8" fill="#000" />
<rect x="586.5" y="481.5" width="2" height="5.6" fill="#fff" stroke="#000"/>
<rect x="585" y="483.3" width="1.4" height="2.6" fill="#000" />
<line x1="584.5" y1="380" x2="584.5" y2="490" stroke="#000" stroke-width="1" />
<rect x="611" y="411" width="24" height="37" fill="#000" />
<rect x="635" y="407" width="3" height="46" fill="#000" />
<rect x="638" y="403.6" width="4" height="51.4" fill="#000" />
<rect x="608" y="417.7" width="3" height="23.8" fill="#000" />
<rect x="604.8" y="420.5" width="3.8" height="8" fill="#fff" stroke="#000"/>
<rect x="604.8" y="431.5" width="3.8" height="8" fill="#fff" stroke="#000"/>
<rect x="609.5" y="428.5" width="1.5" height="5.5" fill="#fff" />
<rect x="79" y="13" width="7" height="14" fill="#000" />
<rect x="80" y="14" width="5" height="12" fill="#fff" />
<rect x="80" y="15" width="4" height="5" fill="#000" />
<rect x="80" y="21" width="4" height="4" fill="#000" />
<rect x="58" y="27" width="7" height="31" fill="#000" />
<rect x="59" y="28" width="5" height="1.4" fill="#fff" />
<rect x="59" y="33.3" width="5" height="1.4" fill="#fff" />
<rect x="59" y="39.1" width="5" height="1.4" fill="#fff" />
<rect x="59" y="45" width="5" height="1.4" fill="#fff" />
<rect x="59" y="50.7" width="5" height="1.4" fill="#fff" />
<rect x="60.2" y="53.2" width="2.4" height="2.6" fill="#fff" />
<rect x="58" y="60" width="7" height="26" fill="#000" />
<rect x="59" y="61" width="5" height="24" fill="#fff" />
<rect x="59" y="61" width="4" height="4" fill="#000" />
<rect x="59" y="66" width="4" height="4" fill="#000" />
<rect x="59" y="71" width="4" height="4" fill="#000" />
<rect x="59" y="76" width="4" height="3" fill="#000" />
<rect x="60" y="80" width="3" height="4" fill="#000" />
<rect x="61" y="81" width="1" height="2" fill="#fff" />
<rect x="58" y="111" width="7" height="14" fill="#000" />
<rect x="59" y="112" width="5" height="12" fill="#fff" />
<rect x="59" y="113" width="4" height="5" fill="#000" />
<rect x="59" y="119" width="4" height="4" fill="#000" />
<rect x="111.7" y="175.8" width="13.55" height="12.3" fill="#000" />
<rect x="115.6" y="176.8" width="0.9" height="10.3" fill="#fff" />
<rect x="119.95" y="176.8" width="0.9" height="10.3" fill="#fff" />
<rect x="112.7" y="181.25" width="11.55" height="0.9" fill="#fff" />
<rect x="63" y="206" width="19" height="25" fill="#000" />
<rect x="63" y="231" width="31" height="18" fill="#000" />
<rect x="64" y="207" width="17" height="1" fill="#fff" />
<rect x="64" y="213" width="17" height="1" fill="#fff" />
<rect x="64" y="219" width="17" height="1" fill="#fff" />
<rect x="64" y="225" width="17" height="1" fill="#fff" />
<rect x="64" y="231" width="29" height="1" fill="#fff" />
<rect x="64" y="237" width="29" height="1" fill="#fff" />
<rect x="64" y="243" width="5" height="1" fill="#fff" />
<rect x="64" y="207" width="1" height="41" fill="#fff" />
<rect x="69" y="207" width="1" height="41" fill="#fff" />
<rect x="76" y="207" width="1" height="41" fill="#fff" />
<rect x="82" y="232" width="1" height="16" fill="#fff" />
<rect x="87" y="232" width="1" height="16" fill="#fff" />
<rect x="66" y="210" width="2" height="2" fill="#fff" />
<rect x="66" y="216" width="2" height="2" fill="#fff" />
<rect x="66" y="222" width="2" height="2" fill="#fff" />
<rect x="66" y="228" width="2" height="2" fill="#fff" />
<rect x="66" y="234" width="2" height="2" fill="#fff" />
<rect x="66" y="240" width="2" height="2" fill="#fff" />
<rect x="66" y="246" width="2" height="2" fill="#fff" />
<rect x="151" y="210" width="13.4" height="18.6" fill="#000" />
<rect x="164.4" y="216" width="5.6" height="12.6" fill="#000" />
<rect x="170" y="220.4" width="6.6" height="8.2" fill="#000" />
<rect x="157" y="211" width="1" height="17" fill="#fff" />
<rect x="157" y="216" width="1" height="1" fill="#000" />
<rect x="157" y="222" width="1" height="1" fill="#000" />
<rect x="163" y="217" width="1" height="11" fill="#fff" />
<rect x="163" y="222" width="1" height="1" fill="#000" />
<rect x="153" y="218" width="3" height="3" fill="#fff" />
<rect x="154" y="224" width="2" height="3" fill="#fff" />
<rect x="152" y="224" width="1" height="4" fill="#fff" />
<rect x="169" y="223" width="1" height="5" fill="#fff" />
<rect x="174" y="223" width="1.4" height="5" fill="#fff" />
<rect x="170.4" y="221" width="3.6" height="1" fill="#fff" />
<rect x="98" y="229" width="7" height="19" fill="#000" />
<rect x="99" y="230" width="5" height="17" fill="#fff" />
<rect x="99" y="236" width="4" height="5" fill="#000" />
<rect x="99" y="242" width="4" height="5" fill="#000" />
<rect x="99" y="230" width="4" height="5" fill="#000" />
<rect x="100" y="231" width="2" height="3" fill="#fff" />
<rect x="105" y="248" width="13.5" height="6" fill="#000" />
<rect x="111" y="249" width="1" height="4" fill="#fff" />
<rect x="116" y="249" width="1" height="4" fill="#fff" />
<rect x="119" y="236" width="13" height="19" fill="#000" />
<rect x="120" y="237" width="11" height="1" fill="#fff" />
<rect x="120" y="242" width="11" height="1" fill="#fff" />
<rect x="120" y="248" width="11" height="1" fill="#fff" />
<rect x="125" y="237" width="1" height="16" fill="#fff" />
<rect x="121" y="239" width="3" height="2" fill="#fff" />
<rect x="135" y="236" width="13" height="19" fill="#000" />
<rect x="136" y="237" width="11" height="1" fill="#fff" />
<rect x="136" y="242" width="11" height="1" fill="#fff" />
<rect x="136" y="248" width="11" height="1" fill="#fff" />
<rect x="136" y="237" width="1" height="16" fill="#fff" />
<rect x="142" y="237" width="1" height="16" fill="#fff" />
<rect x="138" y="239" width="2" height="2" fill="#fff" />
<line x1="127.5" y1="234" x2="127.5" y2="237" stroke="#000" stroke-width="1" />
<line x1="144.5" y1="233" x2="144.5" y2="237" stroke="#000" stroke-width="1" />
<rect x="233" y="257" width="19" height="19" fill="#000" />
<rect x="234" y="258" width="1" height="17" fill="#fff" />
<rect x="235" y="263" width="4" height="1" fill="#fff" />
<rect x="240" y="263" width="5" height="1" fill="#fff" />
<rect x="246" y="263" width="5" height="1" fill="#fff" />
<rect x="235" y="269" width="4" height="1" fill="#fff" />
<rect x="240" y="269" width="5" height="1" fill="#fff" />
<rect x="246" y="269" width="5" height="1" fill="#fff" />
<rect x="235" y="274" width="4" height="1" fill="#fff" />
<rect x="240" y="274" width="5" height="1" fill="#fff" />
<rect x="246" y="274" width="5" height="1" fill="#fff" />
<rect x="236" y="271" width="2" height="2" fill="#fff" />
<rect x="241" y="271" width="3" height="2" fill="#fff" />
<rect x="247" y="271" width="3" height="2" fill="#fff" />
<rect x="441" y="310" width="18" height="19" fill="#000" />
<rect x="447" y="311" width="1" height="17" fill="#fff" />
<rect x="453" y="311" width="1" height="17" fill="#fff" />
<rect x="442" y="316" width="4" height="1" fill="#fff" />
<rect x="442" y="322" width="4" height="1" fill="#fff" />
<rect x="442" y="327" width="4" height="1" fill="#fff" />
<rect x="448" y="316" width="4" height="1" fill="#fff" />
<rect x="448" y="322" width="4" height="1" fill="#fff" />
<rect x="448" y="327" width="4" height="1" fill="#fff" />
<rect x="454" y="316" width="4" height="1" fill="#fff" />
<rect x="454" y="322" width="4" height="1" fill="#fff" />
<rect x="454" y="327" width="4" height="1" fill="#fff" />
<rect x="443" y="324" width="2" height="2" fill="#fff" />
<rect x="449" y="324" width="2" height="2" fill="#fff" />
<rect x="455" y="324" width="2" height="2" fill="#fff" />
<rect x="397" y="332" width="6" height="19" fill="#000" />
<rect x="398" y="338" width="4" height="1" fill="#fff" />
<rect x="398" y="343" width="4" height="2" fill="#fff" />
<rect x="399" y="346" width="2" height="2" fill="#fff" />
<rect x="398" y="349" width="4" height="1" fill="#fff" />
<rect x="614" y="310" width="7" height="26" fill="#000" />
<rect x="615" y="311" width="5" height="6" fill="#fff" />
<rect x="616" y="312" width="3" height="4" fill="#000" />
<rect x="617" y="313" width="1" height="2" fill="#fff" />
<rect x="615" y="318" width="5" height="1.4" fill="#fff" />
<rect x="615" y="323" width="5" height="1.4" fill="#fff" />
<rect x="615" y="328" width="5" height="1.4" fill="#fff" />
<rect x="615" y="333" width="5" height="1.4" fill="#fff" />
<rect x="104" y="376" width="44" height="6" fill="#000" />
<rect x="106" y="377" width="3" height="4" fill="#fff" />
<rect x="107" y="378" width="1" height="2" fill="#000" />
<rect x="113" y="377" width="1" height="4" fill="#fff" />
<rect x="118" y="377" width="1" height="4" fill="#fff" />
<rect x="123" y="377" width="1" height="4" fill="#fff" />
<rect x="129" y="377" width="1" height="4" fill="#fff" />
<rect x="134" y="377" width="1" height="4" fill="#fff" />
<rect x="140" y="377" width="1" height="4" fill="#fff" />
<rect x="145" y="377" width="1" height="4" fill="#fff" />
<rect x="296" y="382" width="26" height="6" fill="#000" />
<rect x="298" y="383" width="4" height="4" fill="#fff" />
<rect x="299" y="384" width="2" height="2" fill="#000" />
<rect x="304" y="383" width="1.4" height="4" fill="#fff" />
<rect x="309" y="383" width="1.4" height="4" fill="#fff" />
<rect x="314" y="383" width="1.4" height="4" fill="#fff" />
<rect x="319" y="383" width="1.4" height="4" fill="#fff" />
<rect x="296" y="442.4" width="25" height="6.6" fill="#000" />
<rect x="297" y="443.4" width="23" height="4.6" fill="#fff" />
<rect x="303" y="444" width="5" height="4" fill="#000" />
<rect x="309" y="444" width="5" height="4" fill="#000" />
<rect x="315" y="444" width="5" height="4" fill="#000" />
<rect x="297.5" y="443.7" width="4.5" height="4" fill="#000" />
<rect x="298.5" y="444.7" width="2.5" height="2" fill="#fff" />
<rect x="90" y="83" width="25" height="3" fill="#000" />
<rect x="90" y="127" width="25" height="3" fill="#000" />
<rect x="91.5" y="172" width="13.5" height="2" fill="#000" />
<rect x="100.2" y="11" width="41.8" height="19" rx="3.4" fill="#000"/>
<rect x="102.1" y="12.9" width="37.5" height="14.7" rx="1.5999999999999999" fill="#fff"/>
<rect x="79" y="34" width="36.5" height="18.8" rx="3.4" fill="#000"/>
<rect x="80.9" y="35.9" width="32.2" height="14.5" rx="1.5999999999999999" fill="#fff"/>
<rect x="78.8" y="64.9" width="35.6" height="18.9" rx="3.4" fill="#000"/>
<rect x="80.7" y="66.8" width="31.3" height="14.6" rx="1.5999999999999999" fill="#fff"/>
<rect x="78.8" y="108.9" width="35.6" height="18.5" rx="3.4" fill="#000"/>
<rect x="80.7" y="110.8" width="31.3" height="14.2" rx="1.5999999999999999" fill="#fff"/>
<rect x="71.4" y="154.2" width="32.6" height="18.2" rx="3.4" fill="#000"/>
<rect x="73.3" y="156.1" width="28.3" height="13.9" rx="1.5999999999999999" fill="#fff"/>
<rect x="61.4" y="175.5" width="35" height="18.1" rx="3.4" fill="#000"/>
<rect x="63.3" y="177.4" width="30.7" height="13.8" rx="1.5999999999999999" fill="#fff"/>
<rect x="14.2" y="184.9" width="41.8" height="18.6" rx="3.4" fill="#000"/>
<rect x="16.1" y="186.8" width="37.5" height="14.3" rx="1.5999999999999999" fill="#fff"/>
<rect x="7.1" y="206" width="41.6" height="19.4" rx="3.4" fill="#000"/>
<rect x="9" y="207.9" width="37.3" height="15.1" rx="1.5999999999999999" fill="#fff"/>
<rect x="7.1" y="225" width="41.6" height="19.2" rx="3.4" fill="#000"/>
<rect x="9" y="226.9" width="37.3" height="14.9" rx="1.5999999999999999" fill="#fff"/>
<rect x="97.2" y="189.1" width="41.4" height="18.1" rx="3.4" fill="#000"/>
<rect x="99.1" y="191" width="37.1" height="13.8" rx="1.5999999999999999" fill="#fff"/>
<rect x="96.7" y="208.9" width="41.9" height="17.9" rx="3.4" fill="#000"/>
<rect x="98.6" y="210.8" width="37.6" height="13.6" rx="1.5999999999999999" fill="#fff"/>
<rect x="171.1" y="188.3" width="41.4" height="17.1" rx="3.4" fill="#000"/>
<rect x="173" y="190.2" width="37.1" height="12.8" rx="1.5999999999999999" fill="#fff"/>
<rect x="184.7" y="210.4" width="40.9" height="18.1" rx="3.4" fill="#000"/>
<rect x="186.6" y="212.3" width="36.6" height="13.8" rx="1.5999999999999999" fill="#fff"/>
<rect x="183.2" y="233.9" width="41.4" height="17.4" rx="3.4" fill="#000"/>
<rect x="185.1" y="235.8" width="37.1" height="13.1" rx="1.5999999999999999" fill="#fff"/>
<rect x="14.5" y="248.1" width="41.5" height="18.2" rx="3.4" fill="#000"/>
<rect x="16.4" y="250" width="37.2" height="13.9" rx="1.5999999999999999" fill="#fff"/>
<rect x="27.8" y="266.3" width="40.7" height="18.2" rx="3.4" fill="#000"/>
<rect x="29.7" y="268.2" width="36.4" height="13.9" rx="1.5999999999999999" fill="#fff"/>
<rect x="45" y="284" width="41.5" height="17.3" rx="3.4" fill="#000"/>
<rect x="46.9" y="285.9" width="37.2" height="13" rx="1.5999999999999999" fill="#fff"/>
<rect x="90.2" y="272" width="42.2" height="16.3" rx="3.4" fill="#000"/>
<rect x="92.1" y="273.9" width="37.9" height="12" rx="1.5999999999999999" fill="#fff"/>
<rect x="134.2" y="273.2" width="40.6" height="17.2" rx="3.4" fill="#000"/>
<rect x="136.1" y="275.1" width="36.3" height="12.9" rx="1.5999999999999999" fill="#fff"/>
<rect x="156.8" y="255" width="39" height="16.4" rx="3.4" fill="#000"/>
<rect x="158.7" y="256.9" width="34.7" height="12.1" rx="1.5999999999999999" fill="#fff"/>
<rect x="250.5" y="228.1" width="50.3" height="17" rx="3.4" fill="#000"/>
<rect x="252.4" y="230" width="46" height="12.7" rx="1.5999999999999999" fill="#fff"/>
<rect x="265.9" y="257" width="48.5" height="17.3" rx="3.4" fill="#000"/>
<rect x="267.8" y="258.9" width="44.2" height="13" rx="1.5999999999999999" fill="#fff"/>
<rect x="245.1" y="286.4" width="50" height="17.9" rx="3.4" fill="#000"/>
<rect x="247" y="288.3" width="45.7" height="13.6" rx="1.5999999999999999" fill="#fff"/>
<rect x="458.1" y="281" width="49.6" height="17.1" rx="3.4" fill="#000"/>
<rect x="460" y="282.9" width="45.3" height="12.8" rx="1.5999999999999999" fill="#fff"/>
<rect x="473.1" y="310" width="48.9" height="17.7" rx="3.4" fill="#000"/>
<rect x="475" y="311.9" width="44.6" height="13.4" rx="1.5999999999999999" fill="#fff"/>
<rect x="453.5" y="340" width="49.4" height="16.7" rx="3.4" fill="#000"/>
<rect x="455.4" y="341.9" width="45.1" height="12.4" rx="1.5999999999999999" fill="#fff"/>
<rect x="410.3" y="354" width="42.3" height="18.2" rx="3.4" fill="#000"/>
<rect x="412.2" y="355.9" width="38" height="13.9" rx="1.5999999999999999" fill="#fff"/>
<rect x="558" y="309.2" width="41.8" height="18.6" rx="3.4" fill="#000"/>
<rect x="559.9" y="311.1" width="37.5" height="14.3" rx="1.5999999999999999" fill="#fff"/>
<rect x="161.8" y="369.2" width="42.4" height="18.4" rx="3.4" fill="#000"/>
<rect x="163.7" y="371.1" width="38.1" height="14.1" rx="1.5999999999999999" fill="#fff"/>
<rect x="240.5" y="376.1" width="40.9" height="18.5" rx="3.4" fill="#000"/>
<rect x="242.4" y="378" width="36.6" height="14.2" rx="1.5999999999999999" fill="#fff"/>
<rect x="241" y="435.9" width="40" height="18.1" rx="3.4" fill="#000"/>
<rect x="242.9" y="437.8" width="35.7" height="13.8" rx="1.5999999999999999" fill="#fff"/>
<rect x="358" y="304.7" width="33.1" height="19" rx="3.4" fill="#000"/>
<rect x="359.9" y="306.6" width="28.8" height="14.7" rx="1.5999999999999999" fill="#fff"/>
<rect x="100.1" y="297.8" width="32" height="19.2" rx="3.4" fill="#000"/>
<rect x="102" y="299.7" width="27.7" height="14.9" rx="1.5999999999999999" fill="#fff"/>
<rect x="127" y="436.5" width="51.3" height="16.5" rx="2.5" fill="#000"/>
<rect x="128.6" y="438.1" width="47.5" height="12.7" rx="0.7" fill="#fff"/>
<rect x="413" y="407.5" width="59.4" height="17.1" rx="2.5" fill="#000"/>
<rect x="414.6" y="409.1" width="55.6" height="13.3" rx="0.7" fill="#fff"/>
<rect x="387.6" y="456" width="58.4" height="17.3" rx="2.5" fill="#000"/>
<rect x="389.2" y="457.6" width="54.6" height="13.5" rx="0.7" fill="#fff"/>
<rect x="387.6" y="475.8" width="58.4" height="17.3" rx="2.5" fill="#000"/>
<rect x="389.2" y="477.4" width="54.6" height="13.5" rx="0.7" fill="#fff"/>
<rect x="99.2" y="405.8" width="16.8" height="76.6" rx="2.6" fill="#000"/>
<rect x="100.6" y="407.6" width="13.6" height="72" rx="0.8" fill="#fff"/>
<rect x="191.5" y="405.8" width="16.7" height="76.6" rx="2.6" fill="#000"/>
<rect x="192.9" y="407.6" width="13.5" height="72" rx="0.8" fill="#fff"/>
<polygon points="103.4,17.4 99.7,17.4 94.7,20.2 99.7,23 103.4,23" fill="#fff"/>
<polyline points="100.7,16.6 94.7,19.3 86,19.5" fill="none" stroke="#000" stroke-width="2.3"/>
<polyline points="100.7,23.8 94.7,21.1 86,20.9" fill="none" stroke="#000" stroke-width="2.3"/>
<polygon points="96.2,20.2 93.2,18.6 86,18.7 86,21.7 93.2,21.8" fill="#000"/>
<polygon points="82.2,39.1 78.5,39.1 73,43.7 78.5,48.3 82.2,48.3" fill="#fff"/>
<polyline points="79.5,38.3 73,42.8 65,43" fill="none" stroke="#000" stroke-width="2.3"/>
<polyline points="79.5,49.1 73,44.6 65,44.4" fill="none" stroke="#000" stroke-width="2.3"/>
<polygon points="74.5,43.7 71.5,42.1 65,42.2 65,45.2 71.5,45.3" fill="#000"/>
<polygon points="82,70.4 78.3,70.4 72.8,74.4 78.3,78.4 82,78.4" fill="#fff"/>
<polyline points="79.3,69.6 72.8,73.5 65,73.7" fill="none" stroke="#000" stroke-width="2.3"/>
<polyline points="79.3,79.2 72.8,75.3 65,75.1" fill="none" stroke="#000" stroke-width="2.3"/>
<polygon points="74.3,74.4 71.3,72.8 65,72.9 65,75.9 71.3,76" fill="#000"/>
<polygon points="82,113.4 78.3,113.4 73.2,118 78.3,122.6 82,122.6" fill="#fff"/>
<polyline points="79.3,112.6 73.2,117.1 64.9,117.3" fill="none" stroke="#000" stroke-width="2.3"/>
<polyline points="79.3,123.4 73.2,118.9 64.9,118.7" fill="none" stroke="#000" stroke-width="2.3"/>
<polygon points="74.7,118 71.7,116.4 64.9,116.5 64.9,119.5 71.7,119.6" fill="#000"/>
<polygon points="93.2,179.1 96.9,179.1 102.4,183.5 96.9,187.9 93.2,187.9" fill="#fff"/>
<polyline points="95.9,178.3 102.4,182.6 111.7,182.8" fill="none" stroke="#000" stroke-width="2.3"/>
<polyline points="95.9,188.7 102.4,184.4 111.7,184.2" fill="none" stroke="#000" stroke-width="2.3"/>
<polygon points="100.9,183.5 103.9,181.9 111.7,182 111.7,185 103.9,185.1" fill="#000"/>
<polygon points="45.5,210.8 49.2,210.8 53.3,215.4 49.2,220 45.5,220" fill="#fff"/>
<polyline points="48.2,210 53.3,214.5 63.3,214.7" fill="none" stroke="#000" stroke-width="2.3"/>
<polyline points="48.2,220.8 53.3,216.3 63.3,216.1" fill="none" stroke="#000" stroke-width="2.3"/>
<polygon points="51.8,215.4 54.8,213.8 63.3,213.9 63.3,216.9 54.8,217" fill="#000"/>
<polygon points="45.5,230.3 49.2,230.3 53.3,234.3 49.2,238.3 45.5,238.3" fill="#fff"/>
<polyline points="48.2,229.5 53.3,233.4 63.3,233.6" fill="none" stroke="#000" stroke-width="2.3"/>
<polyline points="48.2,239.1 53.3,235.2 63.3,235" fill="none" stroke="#000" stroke-width="2.3"/>
<polygon points="51.8,234.3 54.8,232.7 63.3,232.8 63.3,235.8 54.8,235.9" fill="#000"/>
<polygon points="187.9,215.2 184.2,215.2 178.7,219 184.2,222.8 187.9,222.8" fill="#fff"/>
<polyline points="185.2,214.4 178.7,218.1 176.6,218.3" fill="none" stroke="#000" stroke-width="2.3"/>
<polyline points="185.2,223.6 178.7,219.9 176.6,219.7" fill="none" stroke="#000" stroke-width="2.3"/>
<polygon points="180.2,219 177.2,217.4 176.6,217.5 176.6,220.5 177.2,220.6" fill="#000"/>
<polygon points="269.1,261.62 265.4,261.62 260.9,265 265.4,268.38 269.1,268.38" fill="#fff"/>
<polyline points="266.4,260.82 260.9,264.1 251.6,264.3" fill="none" stroke="#000" stroke-width="2.3"/>
<polyline points="266.4,269.18 260.9,265.9 251.6,265.7" fill="none" stroke="#000" stroke-width="2.3"/>
<polygon points="262.4,265 259.4,263.4 251.6,263.5 251.6,266.5 259.4,266.6" fill="#000"/>
<polygon points="476.3,314.63 472.6,314.63 467.9,318.1 472.6,321.57 476.3,321.57" fill="#fff"/>
<polyline points="473.6,313.83 467.9,317.2 459,317.4" fill="none" stroke="#000" stroke-width="2.3"/>
<polyline points="473.6,322.37 467.9,319 459,318.8" fill="none" stroke="#000" stroke-width="2.3"/>
<polygon points="469.4,318.1 466.4,316.5 459,316.6 459,319.6 466.4,319.7" fill="#000"/>
<polygon points="596.6,313.4 600.3,313.4 605.4,317.9 600.3,322.4 596.6,322.4" fill="#fff"/>
<polyline points="599.3,312.6 605.4,317 614.2,317.2" fill="none" stroke="#000" stroke-width="2.3"/>
<polyline points="599.3,323.2 605.4,318.8 614.2,318.6" fill="none" stroke="#000" stroke-width="2.3"/>
<polygon points="603.9,317.9 606.9,316.3 614.2,316.4 614.2,319.4 606.9,319.5" fill="#000"/>
<polygon points="165,373.9 161.3,373.9 155.3,378.7 161.3,383.5 165,383.5" fill="#fff"/>
<polyline points="162.3,373.1 155.3,377.8 147.8,378" fill="none" stroke="#000" stroke-width="2.3"/>
<polyline points="162.3,384.3 155.3,379.6 147.8,379.4" fill="none" stroke="#000" stroke-width="2.3"/>
<polygon points="156.8,378.7 153.8,377.1 147.8,377.2 147.8,380.2 153.8,380.3" fill="#000"/>
<polygon points="278.2,381 281.9,381 287,385 281.9,389 278.2,389" fill="#fff"/>
<polyline points="280.9,380.2 287,384.1 296.4,384.3" fill="none" stroke="#000" stroke-width="2.3"/>
<polyline points="280.9,389.8 287,385.9 296.4,385.7" fill="none" stroke="#000" stroke-width="2.3"/>
<polygon points="285.5,385 288.5,383.4 296.4,383.5 296.4,386.5 288.5,386.6" fill="#000"/>
<polygon points="277.8,440.7 281.5,440.7 286.6,445.1 281.5,449.5 277.8,449.5" fill="#fff"/>
<polyline points="280.5,439.9 286.6,444.2 296.1,444.4" fill="none" stroke="#000" stroke-width="2.3"/>
<polyline points="280.5,450.3 286.6,446 296.1,445.8" fill="none" stroke="#000" stroke-width="2.3"/>
<polygon points="285.1,445.1 288.1,443.5 296.1,443.6 296.1,446.6 288.1,446.7" fill="#000"/>
<polygon points="96,169 97,171 112.5,178.5 102.5,170 101.5,168" fill="#fff"/>
<polyline points="97,171 112.5,178.5 102.5,170" fill="none" stroke="#000" stroke-width="2" stroke-linejoin="miter"/>
<polygon points="48,200 48,202 64,209.5 54.5,201.5 54.5,199.5" fill="#fff"/>
<polyline points="48,202 64,209.5 54.5,201.5" fill="none" stroke="#000" stroke-width="2" stroke-linejoin="miter"/>
<polygon points="174,202 174,204 164.6,213 179.5,204 179.5,202" fill="#fff"/>
<polyline points="174,204 164.6,213 179.5,204" fill="none" stroke="#000" stroke-width="2" stroke-linejoin="miter"/>
<polygon points="186,238.5 185,236.5 177,225.8 190,235.5 191,237.5" fill="#fff"/>
<polyline points="185,236.5 177,225.8 190,235.5" fill="none" stroke="#000" stroke-width="2" stroke-linejoin="miter"/>
<polygon points="49,252 49,250 64,241.5 55,250 55,252" fill="#fff"/>
<polyline points="49,250 64,241.5 55,250" fill="none" stroke="#000" stroke-width="2" stroke-linejoin="miter"/>
<polygon points="251.8,241.5 251.8,243.5 242.3,257.5 258,243.5 258,241.5" fill="#fff"/>
<polyline points="251.8,243.5 242.3,257.5 258,243.5" fill="none" stroke="#000" stroke-width="2" stroke-linejoin="miter"/>
<polygon points="247,290 247,288 237.5,275.8 253,288 253,290" fill="#fff"/>
<polyline points="247,288 237.5,275.8 253,288" fill="none" stroke="#000" stroke-width="2" stroke-linejoin="miter"/>
<polygon points="459.5,294.5 459.5,296.5 449.4,310 465.5,296.5 465.5,294.5" fill="#fff"/>
<polyline points="459.5,296.5 449.4,310 465.5,296.5" fill="none" stroke="#000" stroke-width="2" stroke-linejoin="miter"/>
<polygon points="455.5,343.5 455.5,341.5 445.5,328.6 462,341.5 462,343.5" fill="#fff"/>
<polyline points="455.5,341.5 445.5,328.6 462,341.5" fill="none" stroke="#000" stroke-width="2" stroke-linejoin="miter"/>
<polygon points="412,357.5 412,355.5 402.8,346 418,355.5 418,357.5" fill="#fff"/>
<polyline points="412,355.5 402.8,346 418,355.5" fill="none" stroke="#000" stroke-width="2" stroke-linejoin="miter"/>
<polygon points="99,202 99,206.5 82,224 80.5,221" fill="#000"/>
<polygon points="98,214 98,218.5 82,230.5 80.5,227" fill="#000"/>
<line x1="98.5" y1="216.4" x2="90" y2="222" stroke="#fff" stroke-width="0.8"/>
<polygon points="147.6,246 150,246 159,256 154,256 147.6,250" fill="#000"/>
<line x1="67" y1="267.5" x2="71" y2="263.5" stroke="#fff" stroke-width="0.8" shape-rendering="geometricPrecision"/>
<line x1="85.5" y1="285" x2="89.5" y2="276" stroke="#fff" stroke-width="0.8" shape-rendering="geometricPrecision"/>
<g filter="url(#tf)">
<text transform="translate(104.7,23.6) scale(0.71,1)" x="0.34 10.26 22.11 33.66" font-size="14">JP25</text>
<text transform="translate(84.6,48.1) scale(0.71,1)" x="0.34 10.26 22.74" font-size="14">JP1</text>
<text transform="translate(84.6,77.9) scale(0.71,1)" x="0.34 10.26 22.28" font-size="14">JP3</text>
<text transform="translate(83.5,122.4) scale(0.71,1)" x="0.34 10.26 22.10" font-size="14">JP7</text>
<text transform="translate(76.6,167.7) scale(0.71,1)" x="0.34 10.26 22.21" font-size="14">JP8</text>
<text transform="translate(67.7,188.6) scale(0.71,1)" x="0.34 10.26 22.16" font-size="14">JP9</text>
<text transform="translate(18.7,197.5) scale(0.71,1)" x="0.34 10.26 22.74 33.52" font-size="14">JP12</text>
<text transform="translate(11.4,219.7) scale(0.71,1)" x="0.34 10.26 22.74 33.69" font-size="14">JP13</text>
<text transform="translate(11.4,238.7) scale(0.71,1)" x="0.34 10.26 22.74 33.57" font-size="14">JP19</text>
<text transform="translate(102.4,202.8) scale(0.71,1)" x="0.34 10.26 22.74 33.66" font-size="14">JP15</text>
<text transform="translate(101.3,222.9) scale(0.71,1)" x="0.34 10.26 22.74 33.51" font-size="14">JP16</text>
<text transform="translate(175.7,200.8) scale(0.71,1)" x="0.34 10.26 22.74 33.90" font-size="14">JP14</text>
<text transform="translate(189.3,223.6) scale(0.71,1)" x="0.34 10.26 22.74 33.51" font-size="14">JP17</text>
<text transform="translate(188.6,247) scale(0.71,1)" x="0.34 10.26 22.74 33.62" font-size="14">JP18</text>
<text transform="translate(19.8,261.8) scale(0.71,1)" x="0.34 10.26 22.11 33.68" font-size="14">JP20</text>
<text transform="translate(32.5,279) scale(0.71,1)" x="0.34 10.26 22.11 33.69" font-size="14">JP23</text>
<text transform="translate(51.6,296.8) scale(0.71,1)" x="0.34 10.26 22.50 33.90" font-size="14">JP44</text>
<text transform="translate(96.6,284.4) scale(0.71,1)" x="0.34 10.26 22.50 33.51" font-size="14">JP46</text>
<text transform="translate(140.5,286.5) scale(0.71,1)" x="0.34 10.26 22.50 33.66" font-size="14">JP45</text>
<text transform="translate(160.8,267.9) scale(0.71,1)" x="0.34 10.26 22.28 33.69" font-size="14">JP33</text>
<text transform="translate(256.2,240.4) scale(0.71,1)" x="0.34 10.26 22.11 33.51 46.03" font-size="14">JP26B</text>
<text transform="translate(269,268.6) scale(0.71,1)" x="0.34 10.26 22.11 33.51 44.92" font-size="14">JP26C</text>
<text transform="translate(251.9,300) scale(0.71,1)" x="0.34 10.26 22.11 33.51 45.61" font-size="14">JP26A</text>
<text transform="translate(463.5,294.6) scale(0.71,1)" x="0.34 10.26 22.11 33.51 44.49" font-size="14">JP27B</text>
<text transform="translate(477,322.9) scale(0.71,1)" x="0.34 10.26 22.11 33.51 44.92" font-size="14">JP27C</text>
<text transform="translate(458.7,353) scale(0.71,1)" x="0.34 10.26 22.11 33.51 45.61" font-size="14">JP27A</text>
<text transform="translate(416.8,367.4) scale(0.71,1)" x="0.34 10.26 22.11 33.62" font-size="14">JP28</text>
<text transform="translate(562.2,322.9) scale(0.71,1)" x="0.34 10.26 22.28 34.14" font-size="14">JP31</text>
<text transform="translate(167.1,383.3) scale(0.71,1)" x="0.34 10.26 22.28 33.68" font-size="14">JP30</text>
<text transform="translate(246.8,390.1) scale(0.71,1)" x="0.34 10.26 22.28 33.90" font-size="14">JP34</text>
<text transform="translate(244.7,449.6) scale(0.71,1)" x="0.34 10.26 22.28 33.57" font-size="14">JP39</text>
<text transform="translate(104,420.7) scale(0.71,1)" x="-1.15" font-size="14">B</text>
<text transform="translate(103.1,435.25) scale(0.71,1)" x="-0.03" font-size="14">A</text>
<text transform="translate(104,449.8) scale(0.71,1)" x="-1.15" font-size="14">N</text>
<text transform="translate(104,464.35) scale(0.71,1)" x="-1.15" font-size="14">K</text>
<text transform="translate(103.3,478.9) scale(0.71,1)" x="-0.08" font-size="14">1</text>
<text transform="translate(196.2,420.7) scale(0.71,1)" x="-1.15" font-size="14">B</text>
<text transform="translate(195.3,435.25) scale(0.71,1)" x="-0.03" font-size="14">A</text>
<text transform="translate(196.2,449.8) scale(0.71,1)" x="-1.15" font-size="14">N</text>
<text transform="translate(196.2,464.35) scale(0.71,1)" x="-1.15" font-size="14">K</text>
<text transform="translate(196.2,478.9) scale(0.71,1)" x="-0.55" font-size="14">0</text>
<text transform="translate(125.2,235.6) scale(1,1)" x="-0.22" font-size="9.5">4</text>
<text transform="translate(142,234.8) scale(1,1)" x="-0.22" font-size="9.5">4</text>
<text transform="translate(479.8,57.8) scale(0.92,1)" x="-0.95 10.24 17.89 25.17 33.24 40.83" font-size="11.6">MH2702</text>
<text transform="translate(166.5,81.4) scale(0.71,1)" x="-0.64 12.51 22.45" font-size="14">SL1</text>
<text transform="translate(166.5,125.4) scale(0.71,1)" x="-0.64 12.51 22.54" font-size="14">SL2</text>
<text transform="translate(166.5,169.4) scale(0.71,1)" x="-0.64 12.51 22.71" font-size="14">SL3</text>
<text transform="translate(102.3,312.7) scale(0.71,1)" x="-0.71 13.92 25.68" font-size="14">CPU</text>
<text transform="translate(362.1,318.9) scale(0.71,1)" x="-0.31 8.71 22.39" font-size="14">TAG</text>
<text transform="translate(132.1,448.8) scale(0.74,1)" x="-0.68 10.78 22.97 36.20 50.52" font-size="13.4">CACHE</text>
<text transform="translate(419.6,420.8) scale(0.8,1)" x="-1.10 9.35 21.65 33.53 42.50 50.23" font-size="13.4">BANK 0</text>
<text transform="translate(394.9,469.7) scale(0.8,1)" x="-1.10 9.10 21.15 32.78 41.25 48.23" font-size="13.4">BANK 1</text>
<text transform="translate(394.9,488.3) scale(0.8,1)" x="-1.10 9.10 21.15 32.78 41.25 48.08" font-size="13.4">BANK 2</text>
</g>
</svg>
</body></html>
